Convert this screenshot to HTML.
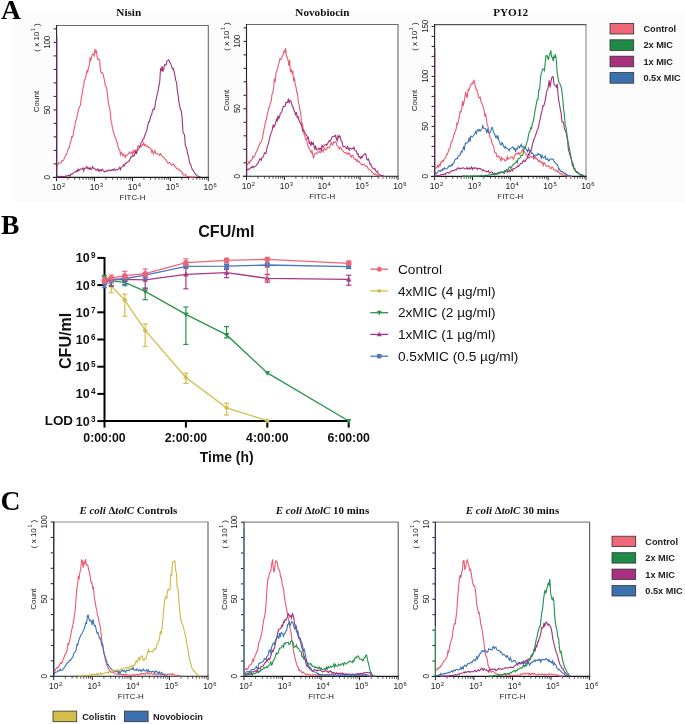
<!DOCTYPE html><html><head><meta charset="utf-8"><style>html,body{margin:0;padding:0;background:#fff;}svg{display:block;will-change:transform;filter:blur(0.35px);}text{font-family:"Liberation Sans", sans-serif;}.serif{font-family:"Liberation Serif",serif;}</style></head><body>
<svg width="685" height="724" viewBox="0 0 685 724">
<rect width="685" height="724" fill="#fff"/>
<rect x="13.5" y="12.4" width="672" height="189.2" fill="#fcfcfc"/>
<text x="1.0" y="18.9" class="serif" font-weight="bold" font-size="27.6" fill="#000">A</text>
<text x="0.9" y="233.8" class="serif" font-weight="bold" font-size="27.6" fill="#000">B</text>
<text x="0.6" y="509.6" class="serif" font-weight="bold" font-size="27.6" fill="#000">C</text>
<rect x="56.6" y="25.5" width="151.7" height="151.9" fill="#fff"/>
<text x="128.75" y="16.2" text-anchor="middle" class="serif" font-weight="bold" font-size="11.2" fill="#111">Nisin</text>
<rect x="246.5" y="24.5" width="151.5" height="151.8" fill="#fff"/>
<text x="322.4" y="16.2" text-anchor="middle" class="serif" font-weight="bold" font-size="11.2" fill="#111">Novobiocin</text>
<rect x="434.6" y="24.6" width="151.4" height="151.8" fill="#fff"/>
<text x="510.6" y="16.2" text-anchor="middle" class="serif" font-weight="bold" font-size="11.2" fill="#111">PYO12</text>
<line x1="53.6" y1="177.4" x2="56.6" y2="177.4" stroke="#222" stroke-width="1"/>
<line x1="53.6" y1="163.9" x2="56.6" y2="163.9" stroke="#222" stroke-width="1"/>
<line x1="53.6" y1="150.4" x2="56.6" y2="150.4" stroke="#222" stroke-width="1"/>
<line x1="53.6" y1="136.9" x2="56.6" y2="136.9" stroke="#222" stroke-width="1"/>
<line x1="53.6" y1="123.4" x2="56.6" y2="123.4" stroke="#222" stroke-width="1"/>
<line x1="53.6" y1="109.9" x2="56.6" y2="109.9" stroke="#222" stroke-width="1"/>
<line x1="53.6" y1="96.4" x2="56.6" y2="96.4" stroke="#222" stroke-width="1"/>
<line x1="53.6" y1="82.9" x2="56.6" y2="82.9" stroke="#222" stroke-width="1"/>
<line x1="53.6" y1="69.4" x2="56.6" y2="69.4" stroke="#222" stroke-width="1"/>
<line x1="53.6" y1="55.9" x2="56.6" y2="55.9" stroke="#222" stroke-width="1"/>
<line x1="53.6" y1="42.4" x2="56.6" y2="42.4" stroke="#222" stroke-width="1"/>
<line x1="53.6" y1="28.9" x2="56.6" y2="28.9" stroke="#222" stroke-width="1"/>
<line x1="56.6" y1="177.4" x2="56.6" y2="181.2" stroke="#222" stroke-width="1"/>
<line x1="68.0" y1="177.4" x2="68.0" y2="179.8" stroke="#333" stroke-width="0.8"/>
<line x1="74.7" y1="177.4" x2="74.7" y2="179.8" stroke="#333" stroke-width="0.8"/>
<line x1="79.4" y1="177.4" x2="79.4" y2="179.8" stroke="#333" stroke-width="0.8"/>
<line x1="83.1" y1="177.4" x2="83.1" y2="179.8" stroke="#333" stroke-width="0.8"/>
<line x1="86.1" y1="177.4" x2="86.1" y2="179.8" stroke="#333" stroke-width="0.8"/>
<line x1="88.7" y1="177.4" x2="88.7" y2="179.8" stroke="#333" stroke-width="0.8"/>
<line x1="90.8" y1="177.4" x2="90.8" y2="179.8" stroke="#333" stroke-width="0.8"/>
<line x1="92.8" y1="177.4" x2="92.8" y2="179.8" stroke="#333" stroke-width="0.8"/>
<line x1="94.5" y1="177.4" x2="94.5" y2="181.2" stroke="#222" stroke-width="1"/>
<line x1="105.9" y1="177.4" x2="105.9" y2="179.8" stroke="#333" stroke-width="0.8"/>
<line x1="112.6" y1="177.4" x2="112.6" y2="179.8" stroke="#333" stroke-width="0.8"/>
<line x1="117.4" y1="177.4" x2="117.4" y2="179.8" stroke="#333" stroke-width="0.8"/>
<line x1="121.0" y1="177.4" x2="121.0" y2="179.8" stroke="#333" stroke-width="0.8"/>
<line x1="124.0" y1="177.4" x2="124.0" y2="179.8" stroke="#333" stroke-width="0.8"/>
<line x1="126.6" y1="177.4" x2="126.6" y2="179.8" stroke="#333" stroke-width="0.8"/>
<line x1="128.8" y1="177.4" x2="128.8" y2="179.8" stroke="#333" stroke-width="0.8"/>
<line x1="130.7" y1="177.4" x2="130.7" y2="179.8" stroke="#333" stroke-width="0.8"/>
<line x1="132.5" y1="177.4" x2="132.5" y2="181.2" stroke="#222" stroke-width="1"/>
<line x1="143.9" y1="177.4" x2="143.9" y2="179.8" stroke="#333" stroke-width="0.8"/>
<line x1="150.5" y1="177.4" x2="150.5" y2="179.8" stroke="#333" stroke-width="0.8"/>
<line x1="155.3" y1="177.4" x2="155.3" y2="179.8" stroke="#333" stroke-width="0.8"/>
<line x1="159.0" y1="177.4" x2="159.0" y2="179.8" stroke="#333" stroke-width="0.8"/>
<line x1="162.0" y1="177.4" x2="162.0" y2="179.8" stroke="#333" stroke-width="0.8"/>
<line x1="164.5" y1="177.4" x2="164.5" y2="179.8" stroke="#333" stroke-width="0.8"/>
<line x1="166.7" y1="177.4" x2="166.7" y2="179.8" stroke="#333" stroke-width="0.8"/>
<line x1="168.6" y1="177.4" x2="168.6" y2="179.8" stroke="#333" stroke-width="0.8"/>
<line x1="170.4" y1="177.4" x2="170.4" y2="181.2" stroke="#222" stroke-width="1"/>
<line x1="181.8" y1="177.4" x2="181.8" y2="179.8" stroke="#333" stroke-width="0.8"/>
<line x1="188.5" y1="177.4" x2="188.5" y2="179.8" stroke="#333" stroke-width="0.8"/>
<line x1="193.2" y1="177.4" x2="193.2" y2="179.8" stroke="#333" stroke-width="0.8"/>
<line x1="196.9" y1="177.4" x2="196.9" y2="179.8" stroke="#333" stroke-width="0.8"/>
<line x1="199.9" y1="177.4" x2="199.9" y2="179.8" stroke="#333" stroke-width="0.8"/>
<line x1="202.4" y1="177.4" x2="202.4" y2="179.8" stroke="#333" stroke-width="0.8"/>
<line x1="204.6" y1="177.4" x2="204.6" y2="179.8" stroke="#333" stroke-width="0.8"/>
<line x1="206.6" y1="177.4" x2="206.6" y2="179.8" stroke="#333" stroke-width="0.8"/>
<line x1="208.3" y1="177.4" x2="208.3" y2="181.2" stroke="#222" stroke-width="1"/>
<line x1="56.1" y1="25.5" x2="208.8" y2="25.5" stroke="#6a6a6a" stroke-width="1.2"/>
<line x1="208.3" y1="25.5" x2="208.3" y2="177.4" stroke="#6a6a6a" stroke-width="1.1"/>
<line x1="56.6" y1="25.0" x2="56.6" y2="177.4" stroke="#222" stroke-width="1.1"/>
<line x1="56.6" y1="177.4" x2="208.8" y2="177.4" stroke="#1a1a1a" stroke-width="1.1"/>
<line x1="52.9" y1="177.4" x2="56.6" y2="177.4" stroke="#222" stroke-width="1"/>
<text transform="translate(49.7,177.4) rotate(-90)" text-anchor="middle" font-size="8.4" letter-spacing="-0.35" fill="#222">0</text>
<text transform="translate(49.7,109.9) rotate(-90)" text-anchor="middle" font-size="8.4" letter-spacing="-0.35" fill="#222">50</text>
<text transform="translate(49.7,42.4) rotate(-90)" text-anchor="middle" font-size="8.4" letter-spacing="-0.35" fill="#222">100</text>
<text x="56.6" y="190.3" text-anchor="middle" font-size="8.5" fill="#222">10</text>
<text x="61.9" y="187.3" font-size="5.8" fill="#222">2</text>
<text x="94.5" y="190.3" text-anchor="middle" font-size="8.5" fill="#222">10</text>
<text x="99.8" y="187.3" font-size="5.8" fill="#222">3</text>
<text x="132.5" y="190.3" text-anchor="middle" font-size="8.5" fill="#222">10</text>
<text x="137.8" y="187.3" font-size="5.8" fill="#222">4</text>
<text x="170.4" y="190.3" text-anchor="middle" font-size="8.5" fill="#222">10</text>
<text x="175.7" y="187.3" font-size="5.8" fill="#222">5</text>
<text x="208.3" y="190.3" text-anchor="middle" font-size="8.5" fill="#222">10</text>
<text x="213.6" y="187.3" font-size="5.8" fill="#222">6</text>
<text x="132.5" y="200.1" text-anchor="middle" font-size="7.9" fill="#222">FITC-H</text>
<text transform="translate(39.3,101.5) rotate(-90)" text-anchor="middle" font-size="8" fill="#222">Count</text>
<text transform="translate(39.2,37.5) rotate(-90)" text-anchor="middle" font-size="8" fill="#222">( x 10<tspan font-size="5.2" dx="0.6" dy="-4.0">1</tspan><tspan dy="4.0"> )</tspan></text>
<line x1="243.5" y1="176.3" x2="246.5" y2="176.3" stroke="#222" stroke-width="1"/>
<line x1="243.5" y1="162.8" x2="246.5" y2="162.8" stroke="#222" stroke-width="1"/>
<line x1="243.5" y1="149.3" x2="246.5" y2="149.3" stroke="#222" stroke-width="1"/>
<line x1="243.5" y1="135.8" x2="246.5" y2="135.8" stroke="#222" stroke-width="1"/>
<line x1="243.5" y1="122.3" x2="246.5" y2="122.3" stroke="#222" stroke-width="1"/>
<line x1="243.5" y1="108.8" x2="246.5" y2="108.8" stroke="#222" stroke-width="1"/>
<line x1="243.5" y1="95.3" x2="246.5" y2="95.3" stroke="#222" stroke-width="1"/>
<line x1="243.5" y1="81.8" x2="246.5" y2="81.8" stroke="#222" stroke-width="1"/>
<line x1="243.5" y1="68.4" x2="246.5" y2="68.4" stroke="#222" stroke-width="1"/>
<line x1="243.5" y1="54.9" x2="246.5" y2="54.9" stroke="#222" stroke-width="1"/>
<line x1="243.5" y1="41.4" x2="246.5" y2="41.4" stroke="#222" stroke-width="1"/>
<line x1="243.5" y1="27.9" x2="246.5" y2="27.9" stroke="#222" stroke-width="1"/>
<line x1="246.5" y1="176.3" x2="246.5" y2="180.1" stroke="#222" stroke-width="1"/>
<line x1="257.9" y1="176.3" x2="257.9" y2="178.7" stroke="#333" stroke-width="0.8"/>
<line x1="264.6" y1="176.3" x2="264.6" y2="178.7" stroke="#333" stroke-width="0.8"/>
<line x1="269.3" y1="176.3" x2="269.3" y2="178.7" stroke="#333" stroke-width="0.8"/>
<line x1="273.0" y1="176.3" x2="273.0" y2="178.7" stroke="#333" stroke-width="0.8"/>
<line x1="276.0" y1="176.3" x2="276.0" y2="178.7" stroke="#333" stroke-width="0.8"/>
<line x1="278.5" y1="176.3" x2="278.5" y2="178.7" stroke="#333" stroke-width="0.8"/>
<line x1="280.7" y1="176.3" x2="280.7" y2="178.7" stroke="#333" stroke-width="0.8"/>
<line x1="282.6" y1="176.3" x2="282.6" y2="178.7" stroke="#333" stroke-width="0.8"/>
<line x1="284.4" y1="176.3" x2="284.4" y2="180.1" stroke="#222" stroke-width="1"/>
<line x1="295.8" y1="176.3" x2="295.8" y2="178.7" stroke="#333" stroke-width="0.8"/>
<line x1="302.4" y1="176.3" x2="302.4" y2="178.7" stroke="#333" stroke-width="0.8"/>
<line x1="307.2" y1="176.3" x2="307.2" y2="178.7" stroke="#333" stroke-width="0.8"/>
<line x1="310.8" y1="176.3" x2="310.8" y2="178.7" stroke="#333" stroke-width="0.8"/>
<line x1="313.8" y1="176.3" x2="313.8" y2="178.7" stroke="#333" stroke-width="0.8"/>
<line x1="316.4" y1="176.3" x2="316.4" y2="178.7" stroke="#333" stroke-width="0.8"/>
<line x1="318.6" y1="176.3" x2="318.6" y2="178.7" stroke="#333" stroke-width="0.8"/>
<line x1="320.5" y1="176.3" x2="320.5" y2="178.7" stroke="#333" stroke-width="0.8"/>
<line x1="322.2" y1="176.3" x2="322.2" y2="180.1" stroke="#222" stroke-width="1"/>
<line x1="333.7" y1="176.3" x2="333.7" y2="178.7" stroke="#333" stroke-width="0.8"/>
<line x1="340.3" y1="176.3" x2="340.3" y2="178.7" stroke="#333" stroke-width="0.8"/>
<line x1="345.1" y1="176.3" x2="345.1" y2="178.7" stroke="#333" stroke-width="0.8"/>
<line x1="348.7" y1="176.3" x2="348.7" y2="178.7" stroke="#333" stroke-width="0.8"/>
<line x1="351.7" y1="176.3" x2="351.7" y2="178.7" stroke="#333" stroke-width="0.8"/>
<line x1="354.3" y1="176.3" x2="354.3" y2="178.7" stroke="#333" stroke-width="0.8"/>
<line x1="356.5" y1="176.3" x2="356.5" y2="178.7" stroke="#333" stroke-width="0.8"/>
<line x1="358.4" y1="176.3" x2="358.4" y2="178.7" stroke="#333" stroke-width="0.8"/>
<line x1="360.1" y1="176.3" x2="360.1" y2="180.1" stroke="#222" stroke-width="1"/>
<line x1="371.5" y1="176.3" x2="371.5" y2="178.7" stroke="#333" stroke-width="0.8"/>
<line x1="378.2" y1="176.3" x2="378.2" y2="178.7" stroke="#333" stroke-width="0.8"/>
<line x1="382.9" y1="176.3" x2="382.9" y2="178.7" stroke="#333" stroke-width="0.8"/>
<line x1="386.6" y1="176.3" x2="386.6" y2="178.7" stroke="#333" stroke-width="0.8"/>
<line x1="389.6" y1="176.3" x2="389.6" y2="178.7" stroke="#333" stroke-width="0.8"/>
<line x1="392.1" y1="176.3" x2="392.1" y2="178.7" stroke="#333" stroke-width="0.8"/>
<line x1="394.3" y1="176.3" x2="394.3" y2="178.7" stroke="#333" stroke-width="0.8"/>
<line x1="396.3" y1="176.3" x2="396.3" y2="178.7" stroke="#333" stroke-width="0.8"/>
<line x1="398.0" y1="176.3" x2="398.0" y2="180.1" stroke="#222" stroke-width="1"/>
<line x1="246.0" y1="24.5" x2="398.5" y2="24.5" stroke="#6a6a6a" stroke-width="1.2"/>
<line x1="398.0" y1="24.5" x2="398.0" y2="176.3" stroke="#6a6a6a" stroke-width="1.1"/>
<line x1="246.5" y1="24.0" x2="246.5" y2="176.3" stroke="#222" stroke-width="1.1"/>
<line x1="246.5" y1="176.3" x2="398.5" y2="176.3" stroke="#1a1a1a" stroke-width="1.1"/>
<line x1="242.8" y1="176.3" x2="246.5" y2="176.3" stroke="#222" stroke-width="1"/>
<text transform="translate(239.6,176.3) rotate(-90)" text-anchor="middle" font-size="8.4" letter-spacing="-0.35" fill="#222">0</text>
<text transform="translate(239.6,108.8) rotate(-90)" text-anchor="middle" font-size="8.4" letter-spacing="-0.35" fill="#222">50</text>
<text transform="translate(239.6,41.4) rotate(-90)" text-anchor="middle" font-size="8.4" letter-spacing="-0.35" fill="#222">100</text>
<text x="246.5" y="189.2" text-anchor="middle" font-size="8.5" fill="#222">10</text>
<text x="251.8" y="186.2" font-size="5.8" fill="#222">2</text>
<text x="284.4" y="189.2" text-anchor="middle" font-size="8.5" fill="#222">10</text>
<text x="289.7" y="186.2" font-size="5.8" fill="#222">3</text>
<text x="322.2" y="189.2" text-anchor="middle" font-size="8.5" fill="#222">10</text>
<text x="327.6" y="186.2" font-size="5.8" fill="#222">4</text>
<text x="360.1" y="189.2" text-anchor="middle" font-size="8.5" fill="#222">10</text>
<text x="365.4" y="186.2" font-size="5.8" fill="#222">5</text>
<text x="398.0" y="189.2" text-anchor="middle" font-size="8.5" fill="#222">10</text>
<text x="403.3" y="186.2" font-size="5.8" fill="#222">6</text>
<text x="322.2" y="199.0" text-anchor="middle" font-size="7.9" fill="#222">FITC-H</text>
<text transform="translate(229.2,100.4) rotate(-90)" text-anchor="middle" font-size="8" fill="#222">Count</text>
<text transform="translate(229.1,36.5) rotate(-90)" text-anchor="middle" font-size="8" fill="#222">( x 10<tspan font-size="5.2" dx="0.6" dy="-4.0">1</tspan><tspan dy="4.0"> )</tspan></text>
<line x1="431.6" y1="176.4" x2="434.6" y2="176.4" stroke="#222" stroke-width="1"/>
<line x1="431.6" y1="166.4" x2="434.6" y2="166.4" stroke="#222" stroke-width="1"/>
<line x1="431.6" y1="156.4" x2="434.6" y2="156.4" stroke="#222" stroke-width="1"/>
<line x1="431.6" y1="146.4" x2="434.6" y2="146.4" stroke="#222" stroke-width="1"/>
<line x1="431.6" y1="136.4" x2="434.6" y2="136.4" stroke="#222" stroke-width="1"/>
<line x1="431.6" y1="126.4" x2="434.6" y2="126.4" stroke="#222" stroke-width="1"/>
<line x1="431.6" y1="116.4" x2="434.6" y2="116.4" stroke="#222" stroke-width="1"/>
<line x1="431.6" y1="106.4" x2="434.6" y2="106.4" stroke="#222" stroke-width="1"/>
<line x1="431.6" y1="96.4" x2="434.6" y2="96.4" stroke="#222" stroke-width="1"/>
<line x1="431.6" y1="86.4" x2="434.6" y2="86.4" stroke="#222" stroke-width="1"/>
<line x1="431.6" y1="76.4" x2="434.6" y2="76.4" stroke="#222" stroke-width="1"/>
<line x1="431.6" y1="66.4" x2="434.6" y2="66.4" stroke="#222" stroke-width="1"/>
<line x1="431.6" y1="56.4" x2="434.6" y2="56.4" stroke="#222" stroke-width="1"/>
<line x1="431.6" y1="46.4" x2="434.6" y2="46.4" stroke="#222" stroke-width="1"/>
<line x1="431.6" y1="36.4" x2="434.6" y2="36.4" stroke="#222" stroke-width="1"/>
<line x1="431.6" y1="26.4" x2="434.6" y2="26.4" stroke="#222" stroke-width="1"/>
<line x1="434.6" y1="176.4" x2="434.6" y2="180.2" stroke="#222" stroke-width="1"/>
<line x1="446.0" y1="176.4" x2="446.0" y2="178.8" stroke="#333" stroke-width="0.8"/>
<line x1="452.7" y1="176.4" x2="452.7" y2="178.8" stroke="#333" stroke-width="0.8"/>
<line x1="457.4" y1="176.4" x2="457.4" y2="178.8" stroke="#333" stroke-width="0.8"/>
<line x1="461.1" y1="176.4" x2="461.1" y2="178.8" stroke="#333" stroke-width="0.8"/>
<line x1="464.1" y1="176.4" x2="464.1" y2="178.8" stroke="#333" stroke-width="0.8"/>
<line x1="466.6" y1="176.4" x2="466.6" y2="178.8" stroke="#333" stroke-width="0.8"/>
<line x1="468.8" y1="176.4" x2="468.8" y2="178.8" stroke="#333" stroke-width="0.8"/>
<line x1="470.7" y1="176.4" x2="470.7" y2="178.8" stroke="#333" stroke-width="0.8"/>
<line x1="472.5" y1="176.4" x2="472.5" y2="180.2" stroke="#222" stroke-width="1"/>
<line x1="483.8" y1="176.4" x2="483.8" y2="178.8" stroke="#333" stroke-width="0.8"/>
<line x1="490.5" y1="176.4" x2="490.5" y2="178.8" stroke="#333" stroke-width="0.8"/>
<line x1="495.2" y1="176.4" x2="495.2" y2="178.8" stroke="#333" stroke-width="0.8"/>
<line x1="498.9" y1="176.4" x2="498.9" y2="178.8" stroke="#333" stroke-width="0.8"/>
<line x1="501.9" y1="176.4" x2="501.9" y2="178.8" stroke="#333" stroke-width="0.8"/>
<line x1="504.4" y1="176.4" x2="504.4" y2="178.8" stroke="#333" stroke-width="0.8"/>
<line x1="506.6" y1="176.4" x2="506.6" y2="178.8" stroke="#333" stroke-width="0.8"/>
<line x1="508.6" y1="176.4" x2="508.6" y2="178.8" stroke="#333" stroke-width="0.8"/>
<line x1="510.3" y1="176.4" x2="510.3" y2="180.2" stroke="#222" stroke-width="1"/>
<line x1="521.7" y1="176.4" x2="521.7" y2="178.8" stroke="#333" stroke-width="0.8"/>
<line x1="528.4" y1="176.4" x2="528.4" y2="178.8" stroke="#333" stroke-width="0.8"/>
<line x1="533.1" y1="176.4" x2="533.1" y2="178.8" stroke="#333" stroke-width="0.8"/>
<line x1="536.8" y1="176.4" x2="536.8" y2="178.8" stroke="#333" stroke-width="0.8"/>
<line x1="539.8" y1="176.4" x2="539.8" y2="178.8" stroke="#333" stroke-width="0.8"/>
<line x1="542.3" y1="176.4" x2="542.3" y2="178.8" stroke="#333" stroke-width="0.8"/>
<line x1="544.5" y1="176.4" x2="544.5" y2="178.8" stroke="#333" stroke-width="0.8"/>
<line x1="546.4" y1="176.4" x2="546.4" y2="178.8" stroke="#333" stroke-width="0.8"/>
<line x1="548.1" y1="176.4" x2="548.1" y2="180.2" stroke="#222" stroke-width="1"/>
<line x1="559.5" y1="176.4" x2="559.5" y2="178.8" stroke="#333" stroke-width="0.8"/>
<line x1="566.2" y1="176.4" x2="566.2" y2="178.8" stroke="#333" stroke-width="0.8"/>
<line x1="570.9" y1="176.4" x2="570.9" y2="178.8" stroke="#333" stroke-width="0.8"/>
<line x1="574.6" y1="176.4" x2="574.6" y2="178.8" stroke="#333" stroke-width="0.8"/>
<line x1="577.6" y1="176.4" x2="577.6" y2="178.8" stroke="#333" stroke-width="0.8"/>
<line x1="580.1" y1="176.4" x2="580.1" y2="178.8" stroke="#333" stroke-width="0.8"/>
<line x1="582.3" y1="176.4" x2="582.3" y2="178.8" stroke="#333" stroke-width="0.8"/>
<line x1="584.3" y1="176.4" x2="584.3" y2="178.8" stroke="#333" stroke-width="0.8"/>
<line x1="586.0" y1="176.4" x2="586.0" y2="180.2" stroke="#222" stroke-width="1"/>
<line x1="434.1" y1="24.6" x2="586.5" y2="24.6" stroke="#555" stroke-width="1.2"/>
<line x1="586.0" y1="24.6" x2="586.0" y2="176.4" stroke="#888" stroke-width="1.1"/>
<line x1="434.6" y1="24.1" x2="434.6" y2="176.4" stroke="#222" stroke-width="1.1"/>
<line x1="434.6" y1="176.4" x2="586.5" y2="176.4" stroke="#1a1a1a" stroke-width="1.1"/>
<line x1="430.90000000000003" y1="176.4" x2="434.6" y2="176.4" stroke="#222" stroke-width="1"/>
<text transform="translate(427.7,176.4) rotate(-90)" text-anchor="middle" font-size="8.4" letter-spacing="-0.35" fill="#222">0</text>
<text transform="translate(427.7,126.4) rotate(-90)" text-anchor="middle" font-size="8.4" letter-spacing="-0.35" fill="#222">50</text>
<text transform="translate(427.7,76.4) rotate(-90)" text-anchor="middle" font-size="8.4" letter-spacing="-0.35" fill="#222">100</text>
<text transform="translate(427.7,26.4) rotate(-90)" text-anchor="middle" font-size="8.4" letter-spacing="-0.35" fill="#222">150</text>
<text x="434.6" y="189.3" text-anchor="middle" font-size="8.5" fill="#222">10</text>
<text x="439.9" y="186.3" font-size="5.8" fill="#222">2</text>
<text x="472.5" y="189.3" text-anchor="middle" font-size="8.5" fill="#222">10</text>
<text x="477.8" y="186.3" font-size="5.8" fill="#222">3</text>
<text x="510.3" y="189.3" text-anchor="middle" font-size="8.5" fill="#222">10</text>
<text x="515.6" y="186.3" font-size="5.8" fill="#222">4</text>
<text x="548.1" y="189.3" text-anchor="middle" font-size="8.5" fill="#222">10</text>
<text x="553.4" y="186.3" font-size="5.8" fill="#222">5</text>
<text x="586.0" y="189.3" text-anchor="middle" font-size="8.5" fill="#222">10</text>
<text x="591.3" y="186.3" font-size="5.8" fill="#222">6</text>
<text x="510.3" y="199.1" text-anchor="middle" font-size="7.9" fill="#222">FITC-H</text>
<text transform="translate(417.3,100.5) rotate(-90)" text-anchor="middle" font-size="8" fill="#222">Count</text>
<text transform="translate(417.2,36.6) rotate(-90)" text-anchor="middle" font-size="8" fill="#222">( x 10<tspan font-size="5.2" dx="0.6" dy="-4.0">1</tspan><tspan dy="4.0"> )</tspan></text>
<rect x="610" y="23.4" width="23.7" height="10.6" fill="#ef6677" stroke="#333" stroke-width="0.8"/>
<text x="643.4" y="31.8" font-size="9.2" font-weight="bold" fill="#222">Control</text>
<rect x="610" y="39.8" width="23.7" height="10.6" fill="#1e8a46" stroke="#333" stroke-width="0.8"/>
<text x="643.4" y="48.2" font-size="9.2" font-weight="bold" fill="#222">2x MIC</text>
<rect x="610" y="56.2" width="23.7" height="10.6" fill="#a8307e" stroke="#333" stroke-width="0.8"/>
<text x="643.4" y="64.6" font-size="9.2" font-weight="bold" fill="#222">1x MIC</text>
<rect x="610" y="72.6" width="23.7" height="10.6" fill="#3c70ae" stroke="#333" stroke-width="0.8"/>
<text x="643.4" y="81.0" font-size="9.2" font-weight="bold" fill="#222">0.5x MIC</text>
<rect x="53.7" y="522.0" width="154.3" height="154.3" fill="#fff"/>
<rect x="244.0" y="522.2" width="154.2" height="154.2" fill="#fff"/>
<rect x="435.4" y="522.2" width="154.2" height="154.2" fill="#fff"/>
<line x1="50.7" y1="676.3" x2="53.7" y2="676.3" stroke="#222" stroke-width="1"/>
<line x1="50.7" y1="660.9" x2="53.7" y2="660.9" stroke="#222" stroke-width="1"/>
<line x1="50.7" y1="645.4" x2="53.7" y2="645.4" stroke="#222" stroke-width="1"/>
<line x1="50.7" y1="630.0" x2="53.7" y2="630.0" stroke="#222" stroke-width="1"/>
<line x1="50.7" y1="614.6" x2="53.7" y2="614.6" stroke="#222" stroke-width="1"/>
<line x1="50.7" y1="599.1" x2="53.7" y2="599.1" stroke="#222" stroke-width="1"/>
<line x1="50.7" y1="583.7" x2="53.7" y2="583.7" stroke="#222" stroke-width="1"/>
<line x1="50.7" y1="568.3" x2="53.7" y2="568.3" stroke="#222" stroke-width="1"/>
<line x1="50.7" y1="552.9" x2="53.7" y2="552.9" stroke="#222" stroke-width="1"/>
<line x1="50.7" y1="537.4" x2="53.7" y2="537.4" stroke="#222" stroke-width="1"/>
<line x1="50.7" y1="522.0" x2="53.7" y2="522.0" stroke="#222" stroke-width="1"/>
<line x1="53.7" y1="676.3" x2="53.7" y2="680.1" stroke="#222" stroke-width="1"/>
<line x1="65.3" y1="676.3" x2="65.3" y2="678.7" stroke="#333" stroke-width="0.8"/>
<line x1="72.1" y1="676.3" x2="72.1" y2="678.7" stroke="#333" stroke-width="0.8"/>
<line x1="76.9" y1="676.3" x2="76.9" y2="678.7" stroke="#333" stroke-width="0.8"/>
<line x1="80.7" y1="676.3" x2="80.7" y2="678.7" stroke="#333" stroke-width="0.8"/>
<line x1="83.7" y1="676.3" x2="83.7" y2="678.7" stroke="#333" stroke-width="0.8"/>
<line x1="86.3" y1="676.3" x2="86.3" y2="678.7" stroke="#333" stroke-width="0.8"/>
<line x1="88.5" y1="676.3" x2="88.5" y2="678.7" stroke="#333" stroke-width="0.8"/>
<line x1="90.5" y1="676.3" x2="90.5" y2="678.7" stroke="#333" stroke-width="0.8"/>
<line x1="92.3" y1="676.3" x2="92.3" y2="680.1" stroke="#222" stroke-width="1"/>
<line x1="103.9" y1="676.3" x2="103.9" y2="678.7" stroke="#333" stroke-width="0.8"/>
<line x1="110.7" y1="676.3" x2="110.7" y2="678.7" stroke="#333" stroke-width="0.8"/>
<line x1="115.5" y1="676.3" x2="115.5" y2="678.7" stroke="#333" stroke-width="0.8"/>
<line x1="119.2" y1="676.3" x2="119.2" y2="678.7" stroke="#333" stroke-width="0.8"/>
<line x1="122.3" y1="676.3" x2="122.3" y2="678.7" stroke="#333" stroke-width="0.8"/>
<line x1="124.9" y1="676.3" x2="124.9" y2="678.7" stroke="#333" stroke-width="0.8"/>
<line x1="127.1" y1="676.3" x2="127.1" y2="678.7" stroke="#333" stroke-width="0.8"/>
<line x1="129.1" y1="676.3" x2="129.1" y2="678.7" stroke="#333" stroke-width="0.8"/>
<line x1="130.9" y1="676.3" x2="130.9" y2="680.1" stroke="#222" stroke-width="1"/>
<line x1="142.5" y1="676.3" x2="142.5" y2="678.7" stroke="#333" stroke-width="0.8"/>
<line x1="149.3" y1="676.3" x2="149.3" y2="678.7" stroke="#333" stroke-width="0.8"/>
<line x1="154.1" y1="676.3" x2="154.1" y2="678.7" stroke="#333" stroke-width="0.8"/>
<line x1="157.8" y1="676.3" x2="157.8" y2="678.7" stroke="#333" stroke-width="0.8"/>
<line x1="160.9" y1="676.3" x2="160.9" y2="678.7" stroke="#333" stroke-width="0.8"/>
<line x1="163.4" y1="676.3" x2="163.4" y2="678.7" stroke="#333" stroke-width="0.8"/>
<line x1="165.7" y1="676.3" x2="165.7" y2="678.7" stroke="#333" stroke-width="0.8"/>
<line x1="167.7" y1="676.3" x2="167.7" y2="678.7" stroke="#333" stroke-width="0.8"/>
<line x1="169.4" y1="676.3" x2="169.4" y2="680.1" stroke="#222" stroke-width="1"/>
<line x1="181.0" y1="676.3" x2="181.0" y2="678.7" stroke="#333" stroke-width="0.8"/>
<line x1="187.8" y1="676.3" x2="187.8" y2="678.7" stroke="#333" stroke-width="0.8"/>
<line x1="192.6" y1="676.3" x2="192.6" y2="678.7" stroke="#333" stroke-width="0.8"/>
<line x1="196.4" y1="676.3" x2="196.4" y2="678.7" stroke="#333" stroke-width="0.8"/>
<line x1="199.4" y1="676.3" x2="199.4" y2="678.7" stroke="#333" stroke-width="0.8"/>
<line x1="202.0" y1="676.3" x2="202.0" y2="678.7" stroke="#333" stroke-width="0.8"/>
<line x1="204.3" y1="676.3" x2="204.3" y2="678.7" stroke="#333" stroke-width="0.8"/>
<line x1="206.2" y1="676.3" x2="206.2" y2="678.7" stroke="#333" stroke-width="0.8"/>
<line x1="208.0" y1="676.3" x2="208.0" y2="680.1" stroke="#222" stroke-width="1"/>
<line x1="53.2" y1="522.0" x2="208.5" y2="522.0" stroke="#8a8a8a" stroke-width="1.2"/>
<line x1="208.0" y1="522.0" x2="208.0" y2="676.3" stroke="#5a5a5a" stroke-width="1.1"/>
<line x1="53.7" y1="521.5" x2="53.7" y2="676.3" stroke="#2c2c44" stroke-width="1.1"/>
<line x1="53.7" y1="676.3" x2="208.5" y2="676.3" stroke="#1a1a1a" stroke-width="1.1"/>
<line x1="50.0" y1="676.3" x2="53.7" y2="676.3" stroke="#222" stroke-width="1"/>
<text transform="translate(46.8,676.3) rotate(-90)" text-anchor="middle" font-size="8.4" letter-spacing="-0.35" fill="#222">0</text>
<text transform="translate(46.8,599.1) rotate(-90)" text-anchor="middle" font-size="8.4" letter-spacing="-0.35" fill="#222">50</text>
<text transform="translate(46.8,522.0) rotate(-90)" text-anchor="middle" font-size="8.4" letter-spacing="-0.35" fill="#222">100</text>
<text x="53.7" y="689.2" text-anchor="middle" font-size="8.5" fill="#222">10</text>
<text x="59.0" y="686.2" font-size="5.8" fill="#222">2</text>
<text x="92.3" y="689.2" text-anchor="middle" font-size="8.5" fill="#222">10</text>
<text x="97.6" y="686.2" font-size="5.8" fill="#222">3</text>
<text x="130.9" y="689.2" text-anchor="middle" font-size="8.5" fill="#222">10</text>
<text x="136.2" y="686.2" font-size="5.8" fill="#222">4</text>
<text x="169.4" y="689.2" text-anchor="middle" font-size="8.5" fill="#222">10</text>
<text x="174.7" y="686.2" font-size="5.8" fill="#222">5</text>
<text x="208.0" y="689.2" text-anchor="middle" font-size="8.5" fill="#222">10</text>
<text x="213.3" y="686.2" font-size="5.8" fill="#222">6</text>
<text x="130.8" y="699.0" text-anchor="middle" font-size="7.9" fill="#222">FITC-H</text>
<text transform="translate(36.4,599.1) rotate(-90)" text-anchor="middle" font-size="8" fill="#222">Count</text>
<text transform="translate(36.3,534.0) rotate(-90)" text-anchor="middle" font-size="8" fill="#222">( x 10<tspan font-size="5.2" dx="0.6" dy="-4.0">1</tspan><tspan dy="4.0"> )</tspan></text>
<line x1="241.0" y1="676.4" x2="244.0" y2="676.4" stroke="#222" stroke-width="1"/>
<line x1="241.0" y1="661.0" x2="244.0" y2="661.0" stroke="#222" stroke-width="1"/>
<line x1="241.0" y1="645.6" x2="244.0" y2="645.6" stroke="#222" stroke-width="1"/>
<line x1="241.0" y1="630.1" x2="244.0" y2="630.1" stroke="#222" stroke-width="1"/>
<line x1="241.0" y1="614.7" x2="244.0" y2="614.7" stroke="#222" stroke-width="1"/>
<line x1="241.0" y1="599.3" x2="244.0" y2="599.3" stroke="#222" stroke-width="1"/>
<line x1="241.0" y1="583.9" x2="244.0" y2="583.9" stroke="#222" stroke-width="1"/>
<line x1="241.0" y1="568.5" x2="244.0" y2="568.5" stroke="#222" stroke-width="1"/>
<line x1="241.0" y1="553.0" x2="244.0" y2="553.0" stroke="#222" stroke-width="1"/>
<line x1="241.0" y1="537.6" x2="244.0" y2="537.6" stroke="#222" stroke-width="1"/>
<line x1="241.0" y1="522.2" x2="244.0" y2="522.2" stroke="#222" stroke-width="1"/>
<line x1="244.0" y1="676.4" x2="244.0" y2="680.2" stroke="#222" stroke-width="1"/>
<line x1="255.6" y1="676.4" x2="255.6" y2="678.8" stroke="#333" stroke-width="0.8"/>
<line x1="262.4" y1="676.4" x2="262.4" y2="678.8" stroke="#333" stroke-width="0.8"/>
<line x1="267.2" y1="676.4" x2="267.2" y2="678.8" stroke="#333" stroke-width="0.8"/>
<line x1="270.9" y1="676.4" x2="270.9" y2="678.8" stroke="#333" stroke-width="0.8"/>
<line x1="274.0" y1="676.4" x2="274.0" y2="678.8" stroke="#333" stroke-width="0.8"/>
<line x1="276.6" y1="676.4" x2="276.6" y2="678.8" stroke="#333" stroke-width="0.8"/>
<line x1="278.8" y1="676.4" x2="278.8" y2="678.8" stroke="#333" stroke-width="0.8"/>
<line x1="280.8" y1="676.4" x2="280.8" y2="678.8" stroke="#333" stroke-width="0.8"/>
<line x1="282.6" y1="676.4" x2="282.6" y2="680.2" stroke="#222" stroke-width="1"/>
<line x1="294.2" y1="676.4" x2="294.2" y2="678.8" stroke="#333" stroke-width="0.8"/>
<line x1="300.9" y1="676.4" x2="300.9" y2="678.8" stroke="#333" stroke-width="0.8"/>
<line x1="305.8" y1="676.4" x2="305.8" y2="678.8" stroke="#333" stroke-width="0.8"/>
<line x1="309.5" y1="676.4" x2="309.5" y2="678.8" stroke="#333" stroke-width="0.8"/>
<line x1="312.5" y1="676.4" x2="312.5" y2="678.8" stroke="#333" stroke-width="0.8"/>
<line x1="315.1" y1="676.4" x2="315.1" y2="678.8" stroke="#333" stroke-width="0.8"/>
<line x1="317.4" y1="676.4" x2="317.4" y2="678.8" stroke="#333" stroke-width="0.8"/>
<line x1="319.3" y1="676.4" x2="319.3" y2="678.8" stroke="#333" stroke-width="0.8"/>
<line x1="321.1" y1="676.4" x2="321.1" y2="680.2" stroke="#222" stroke-width="1"/>
<line x1="332.7" y1="676.4" x2="332.7" y2="678.8" stroke="#333" stroke-width="0.8"/>
<line x1="339.5" y1="676.4" x2="339.5" y2="678.8" stroke="#333" stroke-width="0.8"/>
<line x1="344.3" y1="676.4" x2="344.3" y2="678.8" stroke="#333" stroke-width="0.8"/>
<line x1="348.0" y1="676.4" x2="348.0" y2="678.8" stroke="#333" stroke-width="0.8"/>
<line x1="351.1" y1="676.4" x2="351.1" y2="678.8" stroke="#333" stroke-width="0.8"/>
<line x1="353.7" y1="676.4" x2="353.7" y2="678.8" stroke="#333" stroke-width="0.8"/>
<line x1="355.9" y1="676.4" x2="355.9" y2="678.8" stroke="#333" stroke-width="0.8"/>
<line x1="357.9" y1="676.4" x2="357.9" y2="678.8" stroke="#333" stroke-width="0.8"/>
<line x1="359.6" y1="676.4" x2="359.6" y2="680.2" stroke="#222" stroke-width="1"/>
<line x1="371.3" y1="676.4" x2="371.3" y2="678.8" stroke="#333" stroke-width="0.8"/>
<line x1="378.0" y1="676.4" x2="378.0" y2="678.8" stroke="#333" stroke-width="0.8"/>
<line x1="382.9" y1="676.4" x2="382.9" y2="678.8" stroke="#333" stroke-width="0.8"/>
<line x1="386.6" y1="676.4" x2="386.6" y2="678.8" stroke="#333" stroke-width="0.8"/>
<line x1="389.6" y1="676.4" x2="389.6" y2="678.8" stroke="#333" stroke-width="0.8"/>
<line x1="392.2" y1="676.4" x2="392.2" y2="678.8" stroke="#333" stroke-width="0.8"/>
<line x1="394.5" y1="676.4" x2="394.5" y2="678.8" stroke="#333" stroke-width="0.8"/>
<line x1="396.4" y1="676.4" x2="396.4" y2="678.8" stroke="#333" stroke-width="0.8"/>
<line x1="398.2" y1="676.4" x2="398.2" y2="680.2" stroke="#222" stroke-width="1"/>
<line x1="243.5" y1="522.2" x2="398.7" y2="522.2" stroke="#8a8a8a" stroke-width="1.2"/>
<line x1="398.2" y1="522.2" x2="398.2" y2="676.4" stroke="#5a5a5a" stroke-width="1.1"/>
<line x1="244.0" y1="521.7" x2="244.0" y2="676.4" stroke="#2c2c44" stroke-width="1.1"/>
<line x1="244.0" y1="676.4" x2="398.7" y2="676.4" stroke="#1a1a1a" stroke-width="1.1"/>
<line x1="240.3" y1="676.4" x2="244.0" y2="676.4" stroke="#222" stroke-width="1"/>
<text transform="translate(237.1,676.4) rotate(-90)" text-anchor="middle" font-size="8.4" letter-spacing="-0.35" fill="#222">0</text>
<text transform="translate(237.1,599.3) rotate(-90)" text-anchor="middle" font-size="8.4" letter-spacing="-0.35" fill="#222">50</text>
<text transform="translate(237.1,522.2) rotate(-90)" text-anchor="middle" font-size="8.4" letter-spacing="-0.35" fill="#222">100</text>
<text x="244.0" y="689.3" text-anchor="middle" font-size="8.5" fill="#222">10</text>
<text x="249.3" y="686.3" font-size="5.8" fill="#222">2</text>
<text x="282.6" y="689.3" text-anchor="middle" font-size="8.5" fill="#222">10</text>
<text x="287.9" y="686.3" font-size="5.8" fill="#222">3</text>
<text x="321.1" y="689.3" text-anchor="middle" font-size="8.5" fill="#222">10</text>
<text x="326.4" y="686.3" font-size="5.8" fill="#222">4</text>
<text x="359.6" y="689.3" text-anchor="middle" font-size="8.5" fill="#222">10</text>
<text x="364.9" y="686.3" font-size="5.8" fill="#222">5</text>
<text x="398.2" y="689.3" text-anchor="middle" font-size="8.5" fill="#222">10</text>
<text x="403.5" y="686.3" font-size="5.8" fill="#222">6</text>
<text x="321.1" y="699.1" text-anchor="middle" font-size="7.9" fill="#222">FITC-H</text>
<text transform="translate(226.7,599.3) rotate(-90)" text-anchor="middle" font-size="8" fill="#222">Count</text>
<text transform="translate(226.6,534.2) rotate(-90)" text-anchor="middle" font-size="8" fill="#222">( x 10<tspan font-size="5.2" dx="0.6" dy="-4.0">1</tspan><tspan dy="4.0"> )</tspan></text>
<line x1="432.4" y1="676.4" x2="435.4" y2="676.4" stroke="#222" stroke-width="1"/>
<line x1="432.4" y1="661.0" x2="435.4" y2="661.0" stroke="#222" stroke-width="1"/>
<line x1="432.4" y1="645.6" x2="435.4" y2="645.6" stroke="#222" stroke-width="1"/>
<line x1="432.4" y1="630.1" x2="435.4" y2="630.1" stroke="#222" stroke-width="1"/>
<line x1="432.4" y1="614.7" x2="435.4" y2="614.7" stroke="#222" stroke-width="1"/>
<line x1="432.4" y1="599.3" x2="435.4" y2="599.3" stroke="#222" stroke-width="1"/>
<line x1="432.4" y1="583.9" x2="435.4" y2="583.9" stroke="#222" stroke-width="1"/>
<line x1="432.4" y1="568.5" x2="435.4" y2="568.5" stroke="#222" stroke-width="1"/>
<line x1="432.4" y1="553.0" x2="435.4" y2="553.0" stroke="#222" stroke-width="1"/>
<line x1="432.4" y1="537.6" x2="435.4" y2="537.6" stroke="#222" stroke-width="1"/>
<line x1="432.4" y1="522.2" x2="435.4" y2="522.2" stroke="#222" stroke-width="1"/>
<line x1="435.4" y1="676.4" x2="435.4" y2="680.2" stroke="#222" stroke-width="1"/>
<line x1="447.0" y1="676.4" x2="447.0" y2="678.8" stroke="#333" stroke-width="0.8"/>
<line x1="453.8" y1="676.4" x2="453.8" y2="678.8" stroke="#333" stroke-width="0.8"/>
<line x1="458.6" y1="676.4" x2="458.6" y2="678.8" stroke="#333" stroke-width="0.8"/>
<line x1="462.3" y1="676.4" x2="462.3" y2="678.8" stroke="#333" stroke-width="0.8"/>
<line x1="465.4" y1="676.4" x2="465.4" y2="678.8" stroke="#333" stroke-width="0.8"/>
<line x1="468.0" y1="676.4" x2="468.0" y2="678.8" stroke="#333" stroke-width="0.8"/>
<line x1="470.2" y1="676.4" x2="470.2" y2="678.8" stroke="#333" stroke-width="0.8"/>
<line x1="472.2" y1="676.4" x2="472.2" y2="678.8" stroke="#333" stroke-width="0.8"/>
<line x1="473.9" y1="676.4" x2="473.9" y2="680.2" stroke="#222" stroke-width="1"/>
<line x1="485.6" y1="676.4" x2="485.6" y2="678.8" stroke="#333" stroke-width="0.8"/>
<line x1="492.3" y1="676.4" x2="492.3" y2="678.8" stroke="#333" stroke-width="0.8"/>
<line x1="497.2" y1="676.4" x2="497.2" y2="678.8" stroke="#333" stroke-width="0.8"/>
<line x1="500.9" y1="676.4" x2="500.9" y2="678.8" stroke="#333" stroke-width="0.8"/>
<line x1="503.9" y1="676.4" x2="503.9" y2="678.8" stroke="#333" stroke-width="0.8"/>
<line x1="506.5" y1="676.4" x2="506.5" y2="678.8" stroke="#333" stroke-width="0.8"/>
<line x1="508.8" y1="676.4" x2="508.8" y2="678.8" stroke="#333" stroke-width="0.8"/>
<line x1="510.7" y1="676.4" x2="510.7" y2="678.8" stroke="#333" stroke-width="0.8"/>
<line x1="512.5" y1="676.4" x2="512.5" y2="680.2" stroke="#222" stroke-width="1"/>
<line x1="524.1" y1="676.4" x2="524.1" y2="678.8" stroke="#333" stroke-width="0.8"/>
<line x1="530.9" y1="676.4" x2="530.9" y2="678.8" stroke="#333" stroke-width="0.8"/>
<line x1="535.7" y1="676.4" x2="535.7" y2="678.8" stroke="#333" stroke-width="0.8"/>
<line x1="539.4" y1="676.4" x2="539.4" y2="678.8" stroke="#333" stroke-width="0.8"/>
<line x1="542.5" y1="676.4" x2="542.5" y2="678.8" stroke="#333" stroke-width="0.8"/>
<line x1="545.1" y1="676.4" x2="545.1" y2="678.8" stroke="#333" stroke-width="0.8"/>
<line x1="547.3" y1="676.4" x2="547.3" y2="678.8" stroke="#333" stroke-width="0.8"/>
<line x1="549.3" y1="676.4" x2="549.3" y2="678.8" stroke="#333" stroke-width="0.8"/>
<line x1="551.0" y1="676.4" x2="551.0" y2="680.2" stroke="#222" stroke-width="1"/>
<line x1="562.7" y1="676.4" x2="562.7" y2="678.8" stroke="#333" stroke-width="0.8"/>
<line x1="569.4" y1="676.4" x2="569.4" y2="678.8" stroke="#333" stroke-width="0.8"/>
<line x1="574.3" y1="676.4" x2="574.3" y2="678.8" stroke="#333" stroke-width="0.8"/>
<line x1="578.0" y1="676.4" x2="578.0" y2="678.8" stroke="#333" stroke-width="0.8"/>
<line x1="581.0" y1="676.4" x2="581.0" y2="678.8" stroke="#333" stroke-width="0.8"/>
<line x1="583.6" y1="676.4" x2="583.6" y2="678.8" stroke="#333" stroke-width="0.8"/>
<line x1="585.9" y1="676.4" x2="585.9" y2="678.8" stroke="#333" stroke-width="0.8"/>
<line x1="587.8" y1="676.4" x2="587.8" y2="678.8" stroke="#333" stroke-width="0.8"/>
<line x1="589.6" y1="676.4" x2="589.6" y2="680.2" stroke="#222" stroke-width="1"/>
<line x1="434.9" y1="522.2" x2="590.1" y2="522.2" stroke="#8a8a8a" stroke-width="1.2"/>
<line x1="589.6" y1="522.2" x2="589.6" y2="676.4" stroke="#5a5a5a" stroke-width="1.1"/>
<line x1="435.4" y1="521.7" x2="435.4" y2="676.4" stroke="#2c2c44" stroke-width="1.1"/>
<line x1="435.4" y1="676.4" x2="590.1" y2="676.4" stroke="#1a1a1a" stroke-width="1.1"/>
<line x1="431.7" y1="676.4" x2="435.4" y2="676.4" stroke="#222" stroke-width="1"/>
<text transform="translate(428.5,676.4) rotate(-90)" text-anchor="middle" font-size="8.4" letter-spacing="-0.35" fill="#222">0</text>
<text transform="translate(428.5,599.3) rotate(-90)" text-anchor="middle" font-size="8.4" letter-spacing="-0.35" fill="#222">50</text>
<text transform="translate(428.5,524.4) rotate(-90)" text-anchor="middle" font-size="8.4" letter-spacing="-0.35" fill="#222">10</text>
<text x="435.4" y="689.3" text-anchor="middle" font-size="8.5" fill="#222">10</text>
<text x="440.7" y="686.3" font-size="5.8" fill="#222">2</text>
<text x="473.9" y="689.3" text-anchor="middle" font-size="8.5" fill="#222">10</text>
<text x="479.2" y="686.3" font-size="5.8" fill="#222">3</text>
<text x="512.5" y="689.3" text-anchor="middle" font-size="8.5" fill="#222">10</text>
<text x="517.8" y="686.3" font-size="5.8" fill="#222">4</text>
<text x="551.0" y="689.3" text-anchor="middle" font-size="8.5" fill="#222">10</text>
<text x="556.3" y="686.3" font-size="5.8" fill="#222">5</text>
<text x="589.6" y="689.3" text-anchor="middle" font-size="8.5" fill="#222">10</text>
<text x="594.9" y="686.3" font-size="5.8" fill="#222">6</text>
<text x="512.5" y="699.1" text-anchor="middle" font-size="7.9" fill="#222">FITC-H</text>
<text transform="translate(418.1,599.3) rotate(-90)" text-anchor="middle" font-size="8" fill="#222">Count</text>
<text transform="translate(418.0,534.2) rotate(-90)" text-anchor="middle" font-size="8" fill="#222">( x 10<tspan font-size="5.2" dx="0.6" dy="-4.0">1</tspan><tspan dy="4.0"> )</tspan></text>
<text x="128.35" y="514.4" text-anchor="middle" class="serif" font-weight="bold" font-size="10.9" fill="#111"><tspan font-style="italic">E coli </tspan><tspan font-style="normal">Δ</tspan><tspan font-style="italic">tolC</tspan> Controls</text>
<text x="322.45" y="514.4" text-anchor="middle" class="serif" font-weight="bold" font-size="10.9" fill="#111"><tspan font-style="italic">E coli </tspan><tspan font-style="normal">Δ</tspan><tspan font-style="italic">tolC</tspan> 10 mins</text>
<text x="512.45" y="514.4" text-anchor="middle" class="serif" font-weight="bold" font-size="10.9" fill="#111"><tspan font-style="italic">E coli </tspan><tspan font-style="normal">Δ</tspan><tspan font-style="italic">tolC</tspan> 30 mins</text>
<rect x="612" y="536.2" width="23.7" height="10.4" fill="#ef6677" stroke="#333" stroke-width="0.8"/>
<text x="645.3" y="544.6" font-size="9.2" font-weight="bold" fill="#222">Control</text>
<rect x="612" y="552.7" width="23.7" height="10.4" fill="#1e8a46" stroke="#333" stroke-width="0.8"/>
<text x="645.3" y="561.1" font-size="9.2" font-weight="bold" fill="#222">2x MIC</text>
<rect x="612" y="569.1" width="23.7" height="10.4" fill="#a8307e" stroke="#333" stroke-width="0.8"/>
<text x="645.3" y="577.5" font-size="9.2" font-weight="bold" fill="#222">1x MIC</text>
<rect x="612" y="585.6" width="23.7" height="10.4" fill="#3c70ae" stroke="#333" stroke-width="0.8"/>
<text x="645.3" y="594.0" font-size="9.2" font-weight="bold" fill="#222">0.5x MIC</text>
<rect x="53" y="711.1" width="23.7" height="10.6" fill="#d3bf4a" stroke="#333" stroke-width="0.8"/>
<text x="82.2" y="719.8" font-size="9.2" font-weight="bold" fill="#222">Colistin</text>
<rect x="124.4" y="711.1" width="23.7" height="10.6" fill="#3c70ae" stroke="#333" stroke-width="0.8"/>
<text x="152.9" y="719.8" font-size="9.2" font-weight="bold" fill="#222">Novobiocin</text>
<polyline points="57.3,166.0 58.1,164.0 58.9,162.9 59.7,163.1 60.5,163.0 61.3,162.4 62.1,160.4 62.9,160.6 63.7,160.1 64.5,157.4 65.3,156.2 66.1,154.2 66.9,153.8 67.7,150.4 68.5,148.2 69.3,147.8 70.1,143.2 70.9,141.6 71.7,136.6 72.5,137.1 73.3,134.4 74.1,128.5 74.9,125.9 75.7,120.8 76.5,119.6 77.3,115.5 78.1,111.1 78.9,108.7 79.7,106.5 80.5,105.1 81.3,98.1 82.1,94.3 82.9,88.4 83.7,85.3 84.5,79.8 85.3,78.8 86.1,75.1 86.9,70.9 87.7,71.9 88.5,67.7 89.3,65.5 90.1,57.6 90.9,60.1 91.7,56.1 92.5,54.0 93.3,54.3 94.1,55.9 94.9,49.1 95.7,52.5 96.5,51.2 97.3,58.5 98.1,59.5 98.9,58.9 99.7,61.6 100.5,70.4 101.3,72.9 102.1,72.5 102.9,73.4 103.7,77.3 104.5,80.0 105.3,85.9 106.1,86.3 106.9,89.4 107.7,97.0 108.5,103.5 109.3,107.3 110.1,110.3 110.9,120.5 111.7,123.1 112.5,128.7 113.3,131.0 114.1,134.5 114.9,137.0 115.7,137.6 116.5,141.6 117.3,142.8 118.1,146.8 118.9,149.1 119.7,149.6 120.5,154.6 121.3,152.6 122.1,153.5 122.9,155.9 123.7,154.4 124.5,155.5 125.3,157.4 126.1,154.8 126.9,155.4 127.7,154.6 128.5,153.9 129.3,152.1 130.1,153.1 130.9,153.0 131.7,152.2 132.5,154.4 133.3,150.6 134.1,152.8 134.9,150.5 135.7,151.6 136.5,150.6 137.3,149.2 138.1,145.7 138.9,146.5 139.7,147.4 140.5,146.2 141.3,146.7 142.1,144.7 142.9,145.0 143.7,143.0 144.5,145.6 145.3,144.5 146.1,145.8 146.9,146.6 147.7,145.9 148.5,147.6 149.3,147.7 150.1,147.7 150.9,148.5 151.7,152.2 152.5,150.6 153.3,153.9 154.1,152.4 154.9,150.6 155.7,153.4 156.5,153.8 157.3,153.5 158.1,153.9 158.9,154.2 159.7,155.4 160.5,153.8 161.3,154.6 162.1,156.6 162.9,156.9 163.7,157.5 164.5,158.1 165.3,159.5 166.1,160.0 166.9,161.6 167.7,163.1 168.5,163.2 169.3,162.4 170.1,163.0 170.9,164.2 171.7,165.2 172.5,164.8 173.3,164.0 174.1,164.6 174.9,166.8 175.7,166.8 176.5,168.5 177.3,169.0 178.1,168.9 178.9,169.9 179.7,170.1 180.5,170.7 181.3,171.8 182.1,172.3 182.9,174.1 183.7,175.1 184.5,174.8 185.3,174.4 186.1,175.7 186.9,176.7 187.7,176.5 188.5,176.3 189.3,177.1 190.1,176.8 190.9,177.1 191.7,176.9 192.5,177.1 193.3,177.1 194.1,176.9 194.9,177.1" fill="none" stroke="#ec5a6e" stroke-width="1.1" stroke-linejoin="miter" stroke-miterlimit="4" opacity="1.0"/>
<polyline points="57.3,177.0 58.1,176.2 58.9,177.0 59.7,176.6 60.5,176.5 61.3,176.2 62.1,176.9 62.9,176.5 63.7,176.5 64.5,176.5 65.3,176.3 66.1,176.1 66.9,175.9 67.7,176.0 68.5,175.2 69.3,175.5 70.1,176.4 70.9,174.0 71.7,174.3 72.5,174.0 73.3,172.9 74.1,172.4 74.9,171.9 75.7,171.9 76.5,170.8 77.3,171.5 78.1,169.1 78.9,170.7 79.7,169.7 80.5,169.3 81.3,168.8 82.1,168.9 82.9,168.1 83.7,171.0 84.5,168.3 85.3,168.1 86.1,168.2 86.9,166.6 87.7,168.6 88.5,167.9 89.3,169.4 90.1,167.8 90.9,169.3 91.7,169.4 92.5,166.6 93.3,168.0 94.1,168.7 94.9,168.7 95.7,170.0 96.5,169.9 97.3,169.0 98.1,171.0 98.9,169.5 99.7,171.1 100.5,170.0 101.3,171.0 102.1,169.2 102.9,169.9 103.7,171.0 104.5,172.0 105.3,171.3 106.1,170.8 106.9,171.4 107.7,170.5 108.5,170.0 109.3,170.6 110.1,170.8 110.9,169.9 111.7,170.5 112.5,169.6 113.3,170.3 114.1,168.8 114.9,170.0 115.7,170.4 116.5,169.3 117.3,169.6 118.1,169.5 118.9,168.6 119.7,167.5 120.5,169.5 121.3,167.3 122.1,166.9 122.9,166.3 123.7,164.8 124.5,165.9 125.3,163.4 126.1,163.4 126.9,162.4 127.7,162.0 128.5,161.3 129.3,160.8 130.1,159.1 130.9,156.6 131.7,156.9 132.5,156.2 133.3,155.7 134.1,155.9 134.9,153.7 135.7,151.1 136.5,154.0 137.3,150.5 138.1,149.2 138.9,148.9 139.7,147.0 140.5,144.9 141.3,142.4 142.1,141.9 142.9,139.5 143.7,139.1 144.5,136.0 145.3,134.6 146.1,131.9 146.9,130.4 147.7,125.9 148.5,122.0 149.3,122.0 150.1,118.8 150.9,115.8 151.7,114.5 152.5,110.4 153.3,109.2 154.1,109.6 154.9,107.0 155.7,101.0 156.5,98.0 157.3,93.4 158.1,90.8 158.9,85.9 159.7,82.2 160.5,69.0 161.3,70.4 162.1,66.1 162.9,71.6 163.7,69.3 164.5,64.7 165.3,64.8 166.1,65.1 166.9,61.1 167.7,60.6 168.5,59.9 169.3,60.9 170.1,62.9 170.9,63.9 171.7,67.1 172.5,69.1 173.3,68.6 174.1,71.6 174.9,75.3 175.7,80.4 176.5,82.4 177.3,89.9 178.1,95.3 178.9,101.8 179.7,105.9 180.5,109.5 181.3,110.9 182.1,117.4 182.9,131.4 183.7,133.6 184.5,134.6 185.3,145.1 186.1,147.2 186.9,149.7 187.7,154.3 188.5,155.9 189.3,161.3 190.1,163.8 190.9,165.2 191.7,167.9 192.5,170.0 193.3,170.5 194.1,172.0 194.9,173.3 195.7,174.5 196.5,175.0 197.3,175.8 198.1,176.5 198.9,176.3 199.7,176.7 200.5,177.0" fill="none" stroke="#a3307e" stroke-width="1.1" stroke-linejoin="miter" stroke-miterlimit="4" opacity="1.0"/>
<line x1="56.800000000000004" y1="36" x2="56.800000000000004" y2="177.4" stroke="#6a2a5e" stroke-width="1.1"/>
<polyline points="247.2,164.9 248.0,163.9 248.8,161.9 249.6,163.0 250.4,160.2 251.2,160.5 252.0,159.6 252.8,156.6 253.6,157.3 254.4,156.5 255.2,154.5 256.0,152.4 256.8,151.7 257.6,148.6 258.4,148.2 259.2,145.3 260.0,143.4 260.8,142.7 261.6,140.8 262.4,138.6 263.2,133.4 264.0,129.4 264.8,125.6 265.6,121.0 266.4,120.0 267.2,114.8 268.0,111.4 268.8,107.4 269.6,107.1 270.4,102.7 271.2,101.6 272.0,94.2 272.8,93.1 273.6,87.4 274.4,78.6 275.2,82.3 276.0,72.6 276.8,70.5 277.6,69.0 278.4,64.6 279.2,62.0 280.0,58.6 280.8,59.3 281.6,57.9 282.4,55.8 283.2,54.8 284.0,51.2 284.8,52.2 285.6,48.0 286.4,56.5 287.2,57.1 288.0,59.9 288.8,65.8 289.6,59.7 290.4,72.0 291.2,69.8 292.0,72.8 292.8,70.6 293.6,81.1 294.4,77.5 295.2,84.6 296.0,87.1 296.8,92.3 297.6,94.2 298.4,102.3 299.2,105.4 300.0,110.5 300.8,113.9 301.6,126.2 302.4,124.1 303.2,128.7 304.0,134.0 304.8,135.8 305.6,139.5 306.4,139.1 307.2,143.4 308.0,146.0 308.8,147.9 309.6,149.3 310.4,150.6 311.2,152.6 312.0,150.4 312.8,155.6 313.6,157.8 314.4,153.9 315.2,153.8 316.0,153.0 316.8,153.4 317.6,153.0 318.4,152.2 319.2,151.3 320.0,152.6 320.8,152.3 321.6,149.3 322.4,150.6 323.2,152.0 324.0,147.7 324.8,149.0 325.6,149.8 326.4,149.7 327.2,147.2 328.0,147.9 328.8,147.5 329.6,147.1 330.4,145.4 331.2,142.7 332.0,144.1 332.8,145.0 333.6,141.9 334.4,142.6 335.2,141.9 336.0,142.2 336.8,145.0 337.6,146.0 338.4,146.8 339.2,148.9 340.0,147.4 340.8,147.3 341.6,149.4 342.4,150.6 343.2,151.2 344.0,152.3 344.8,152.7 345.6,152.6 346.4,153.3 347.2,153.1 348.0,154.6 348.8,152.8 349.6,153.5 350.4,155.2 351.2,157.1 352.0,155.4 352.8,155.2 353.6,158.0 354.4,158.6 355.2,159.5 356.0,159.0 356.8,161.3 357.6,160.2 358.4,162.0 359.2,161.5 360.0,162.8 360.8,163.5 361.6,164.9 362.4,164.6 363.2,164.6 364.0,164.2 364.8,165.0 365.6,166.3 366.4,166.1 367.2,166.5 368.0,168.2 368.8,169.3 369.6,170.0 370.4,170.0 371.2,171.0 372.0,172.6 372.8,172.7 373.6,173.8 374.4,174.4 375.2,174.0 376.0,174.5 376.8,175.5 377.6,175.5 378.4,175.6 379.2,176.0 380.0,176.0 380.8,175.9 381.6,176.0 382.4,176.0 383.2,176.0 384.0,176.0" fill="none" stroke="#ec5a6e" stroke-width="1.1" stroke-linejoin="miter" stroke-miterlimit="4" opacity="1.0"/>
<polyline points="246.8,170.0 247.6,169.6 248.4,169.0 249.2,169.3 250.0,168.4 250.8,167.6 251.6,167.6 252.4,166.3 253.2,167.7 254.0,166.6 254.8,166.7 255.6,166.3 256.4,165.2 257.2,164.1 258.0,163.0 258.8,161.9 259.6,159.0 260.4,159.1 261.2,160.3 262.0,157.4 262.8,157.2 263.6,156.1 264.4,152.9 265.2,153.3 266.0,153.6 266.8,148.6 267.6,145.9 268.4,143.4 269.2,139.7 270.0,136.7 270.8,133.6 271.6,132.0 272.4,129.3 273.2,124.7 274.0,127.1 274.8,125.5 275.6,123.1 276.4,119.4 277.2,120.8 278.0,115.7 278.8,118.6 279.6,116.5 280.4,113.1 281.2,112.9 282.0,111.1 282.8,107.9 283.6,106.3 284.4,106.4 285.2,106.1 286.0,102.1 286.8,102.6 287.6,102.5 288.4,98.7 289.2,102.3 290.0,100.7 290.8,100.9 291.6,103.8 292.4,106.7 293.2,106.9 294.0,110.3 294.8,112.0 295.6,114.5 296.4,112.3 297.2,117.4 298.0,116.4 298.8,119.5 299.6,122.4 300.4,122.7 301.2,125.1 302.0,127.1 302.8,131.2 303.6,130.7 304.4,131.3 305.2,133.7 306.0,134.7 306.8,135.7 307.6,138.6 308.4,137.5 309.2,143.2 310.0,142.3 310.8,146.0 311.6,142.4 312.4,144.0 313.2,142.7 314.0,146.1 314.8,149.0 315.6,145.7 316.4,149.6 317.2,150.1 318.0,149.1 318.8,148.2 319.6,149.4 320.4,148.3 321.2,150.3 322.0,145.4 322.8,147.0 323.6,146.1 324.4,145.0 325.2,145.0 326.0,144.4 326.8,145.2 327.6,143.6 328.4,142.2 329.2,140.7 330.0,141.4 330.8,139.9 331.6,138.3 332.4,136.7 333.2,136.2 334.0,136.1 334.8,136.4 335.6,135.5 336.4,138.8 337.2,140.7 338.0,135.8 338.8,137.4 339.6,135.8 340.4,137.1 341.2,141.0 342.0,141.3 342.8,145.7 343.6,146.8 344.4,146.3 345.2,146.8 346.0,148.2 346.8,148.8 347.6,146.5 348.4,148.3 349.2,150.2 350.0,148.1 350.8,148.8 351.6,149.0 352.4,148.2 353.2,148.8 354.0,147.2 354.8,150.1 355.6,151.0 356.4,151.0 357.2,154.1 358.0,153.7 358.8,156.8 359.6,156.6 360.4,158.4 361.2,156.5 362.0,157.8 362.8,155.8 363.6,154.9 364.4,154.5 365.2,153.7 366.0,154.9 366.8,159.3 367.6,159.9 368.4,159.1 369.2,161.3 370.0,164.3 370.8,164.1 371.6,166.6 372.4,167.5 373.2,168.8 374.0,169.1 374.8,168.4 375.6,170.5 376.4,171.7 377.2,171.1 378.0,173.5 378.8,174.1 379.6,174.8 380.4,175.0 381.2,175.6 382.0,175.3 382.8,176.0 383.6,176.0" fill="none" stroke="#a3307e" stroke-width="1.1" stroke-linejoin="miter" stroke-miterlimit="4" opacity="1.0"/>
<line x1="246.7" y1="83" x2="246.7" y2="176.3" stroke="#6a2a5e" stroke-width="1.1"/>
<polyline points="435.3,168.0 436.1,168.2 436.9,167.5 437.7,165.4 438.5,167.1 439.3,164.6 440.1,165.8 440.9,162.2 441.7,162.3 442.5,160.4 443.3,161.3 444.1,159.2 444.9,158.4 445.7,157.2 446.5,154.5 447.3,154.4 448.1,152.0 448.9,149.3 449.7,148.5 450.5,147.2 451.3,141.5 452.1,141.3 452.9,139.2 453.7,135.3 454.5,133.8 455.3,131.3 456.1,129.1 456.9,123.1 457.7,123.9 458.5,120.9 459.3,116.9 460.1,111.3 460.9,111.8 461.7,109.4 462.5,101.1 463.3,105.9 464.1,101.5 464.9,97.2 465.7,91.9 466.5,96.2 467.3,97.3 468.1,89.6 468.9,90.3 469.7,88.3 470.5,85.0 471.3,84.1 472.1,83.0 472.9,84.0 473.7,80.5 474.5,81.3 475.3,86.2 476.1,89.5 476.9,89.6 477.7,92.3 478.5,97.2 479.3,97.9 480.1,96.9 480.9,101.0 481.7,103.4 482.5,104.6 483.3,107.5 484.1,110.2 484.9,116.6 485.7,113.7 486.5,119.8 487.3,125.4 488.1,126.8 488.9,132.2 489.7,136.5 490.5,138.2 491.3,139.3 492.1,144.0 492.9,144.8 493.7,146.2 494.5,151.8 495.3,152.9 496.1,153.0 496.9,157.0 497.7,156.6 498.5,155.9 499.3,157.1 500.1,158.4 500.9,161.3 501.7,157.5 502.5,159.2 503.3,158.8 504.1,158.9 504.9,160.9 505.7,160.4 506.5,160.0 507.3,156.8 508.1,159.3 508.9,158.5 509.7,158.3 510.5,157.2 511.3,157.0 512.1,156.9 512.9,158.1 513.7,159.5 514.5,155.4 515.3,154.8 516.1,153.2 516.9,154.1 517.7,154.2 518.5,152.5 519.3,154.2 520.1,153.3 520.9,152.9 521.7,151.2 522.5,149.1 523.3,150.9 524.1,151.1 524.9,152.8 525.7,153.6 526.5,155.0 527.3,155.4 528.1,158.2 528.9,157.4 529.7,158.0 530.5,156.3 531.3,156.9 532.1,156.8 532.9,156.7 533.7,158.8 534.5,157.6 535.3,156.9 536.1,159.1 536.9,158.2 537.7,159.7 538.5,161.4 539.3,160.3 540.1,161.8 540.9,161.6 541.7,162.8 542.5,162.7 543.3,165.4 544.1,162.4 544.9,163.5 545.7,165.5 546.5,166.4 547.3,166.1 548.1,165.9 548.9,166.4 549.7,166.7 550.5,168.8 551.3,168.4 552.1,166.9 552.9,168.0 553.7,169.7 554.5,169.8 555.3,170.7 556.1,171.0 556.9,170.3 557.7,171.8 558.5,171.6 559.3,172.7 560.1,174.1 560.9,174.2 561.7,173.4 562.5,175.1 563.3,175.5 564.1,174.9 564.9,175.6 565.7,175.8 566.5,175.6 567.3,176.1 568.1,176.1 568.9,176.1 569.7,176.1 570.5,176.1 571.3,176.1 572.1,176.1" fill="none" stroke="#ec5a6e" stroke-width="1.1" stroke-linejoin="miter" stroke-miterlimit="4" opacity="1.0"/>
<polyline points="434.8,173.6 435.6,172.9 436.4,173.6 437.2,172.6 438.0,171.7 438.8,170.4 439.6,170.9 440.4,171.6 441.2,170.0 442.0,170.7 442.8,168.8 443.6,169.5 444.4,167.8 445.2,168.8 446.0,169.0 446.8,169.0 447.6,167.8 448.4,166.8 449.2,165.7 450.0,165.9 450.8,166.2 451.6,164.6 452.4,165.5 453.2,162.9 454.0,163.0 454.8,159.8 455.6,159.1 456.4,158.6 457.2,159.0 458.0,156.5 458.8,155.7 459.6,155.7 460.4,154.7 461.2,151.5 462.0,152.1 462.8,149.9 463.6,147.3 464.4,149.4 465.2,143.8 466.0,143.0 466.8,143.4 467.6,142.3 468.4,141.5 469.2,137.7 470.0,141.7 470.8,136.1 471.6,136.4 472.4,136.9 473.2,136.0 474.0,135.0 474.8,134.0 475.6,131.7 476.4,133.5 477.2,130.1 478.0,129.8 478.8,131.2 479.6,129.6 480.4,131.0 481.2,129.7 482.0,128.5 482.8,125.7 483.6,128.3 484.4,128.3 485.2,128.5 486.0,129.8 486.8,132.3 487.6,128.7 488.4,132.6 489.2,132.7 490.0,132.9 490.8,130.9 491.6,127.6 492.4,127.7 493.2,131.0 494.0,132.8 494.8,134.4 495.6,137.1 496.4,135.9 497.2,138.1 498.0,136.1 498.8,140.2 499.6,142.1 500.4,144.1 501.2,144.9 502.0,142.6 502.8,143.8 503.6,146.5 504.4,147.9 505.2,146.5 506.0,148.1 506.8,148.1 507.6,148.8 508.4,149.7 509.2,150.8 510.0,148.4 510.8,148.3 511.6,148.1 512.4,147.1 513.2,147.1 514.0,149.2 514.8,148.3 515.6,151.9 516.4,148.6 517.2,149.0 518.0,147.0 518.8,146.1 519.6,147.7 520.4,146.1 521.2,144.5 522.0,146.8 522.8,146.5 523.6,147.8 524.4,146.8 525.2,147.7 526.0,149.4 526.8,150.5 527.6,151.8 528.4,148.4 529.2,150.4 530.0,151.2 530.8,151.8 531.6,153.6 532.4,153.2 533.2,154.3 534.0,157.6 534.8,155.2 535.6,155.1 536.4,155.5 537.2,155.1 538.0,153.4 538.8,154.9 539.6,154.2 540.4,154.9 541.2,158.1 542.0,155.2 542.8,157.3 543.6,158.1 544.4,157.2 545.2,156.1 546.0,159.4 546.8,159.5 547.6,158.6 548.4,161.0 549.2,160.5 550.0,159.4 550.8,158.8 551.6,159.2 552.4,159.1 553.2,159.3 554.0,161.4 554.8,162.2 555.6,163.2 556.4,164.2 557.2,164.4 558.0,166.2 558.8,169.8 559.6,169.1 560.4,171.1 561.2,171.9 562.0,171.2 562.8,171.9 563.6,172.5 564.4,173.3 565.2,173.2 566.0,174.9 566.8,174.4 567.6,175.4 568.4,175.6 569.2,176.1 570.0,175.4 570.8,176.1" fill="none" stroke="#3a73b4" stroke-width="1.1" stroke-linejoin="miter" stroke-miterlimit="4" opacity="1.0"/>
<polyline points="434.8,176.0 435.6,176.0 436.4,175.6 437.2,175.7 438.0,175.6 438.8,175.8 439.6,175.4 440.4,174.8 441.2,174.9 442.0,174.5 442.8,174.6 443.6,174.2 444.4,174.0 445.2,174.6 446.0,173.0 446.8,172.8 447.6,172.4 448.4,173.2 449.2,173.0 450.0,172.2 450.8,171.7 451.6,170.9 452.4,170.9 453.2,170.3 454.0,170.8 454.8,169.9 455.6,169.6 456.4,170.0 457.2,168.1 458.0,168.6 458.8,167.8 459.6,168.9 460.4,168.8 461.2,168.4 462.0,168.3 462.8,167.8 463.6,168.1 464.4,168.6 465.2,169.0 466.0,168.7 466.8,167.5 467.6,169.0 468.4,168.2 469.2,168.0 470.0,169.3 470.8,168.1 471.6,167.0 472.4,169.4 473.2,168.1 474.0,167.9 474.8,168.5 475.6,167.7 476.4,168.3 477.2,169.5 478.0,168.2 478.8,168.6 479.6,168.6 480.4,168.5 481.2,169.4 482.0,169.8 482.8,170.9 483.6,169.8 484.4,170.8 485.2,170.9 486.0,171.6 486.8,171.6 487.6,171.6 488.4,170.8 489.2,173.0 490.0,172.9 490.8,172.2 491.6,171.8 492.4,172.4 493.2,173.9 494.0,174.4 494.8,173.1 495.6,173.8 496.4,174.1 497.2,173.1 498.0,173.0 498.8,173.4 499.6,173.2 500.4,172.9 501.2,172.1 502.0,172.4 502.8,172.3 503.6,172.1 504.4,173.0 505.2,171.2 506.0,171.1 506.8,171.0 507.6,172.3 508.4,171.3 509.2,170.2 510.0,171.7 510.8,170.5 511.6,169.5 512.4,170.8 513.2,168.5 514.0,168.8 514.8,168.8 515.6,167.9 516.4,167.1 517.2,166.9 518.0,165.5 518.8,166.2 519.6,165.3 520.4,163.4 521.2,163.5 522.0,163.6 522.8,161.3 523.6,160.2 524.4,161.4 525.2,161.6 526.0,159.6 526.8,158.7 527.6,157.6 528.4,154.2 529.2,155.0 530.0,150.4 530.8,151.3 531.6,148.6 532.4,144.6 533.2,141.5 534.0,139.3 534.8,137.4 535.6,135.2 536.4,132.8 537.2,130.0 538.0,128.8 538.8,125.3 539.6,121.2 540.4,118.3 541.2,113.4 542.0,110.7 542.8,105.9 543.6,106.1 544.4,104.0 545.2,100.2 546.0,95.8 546.8,90.7 547.6,90.0 548.4,85.7 549.2,80.4 550.0,87.5 550.8,82.6 551.6,78.1 552.4,76.8 553.2,77.2 554.0,84.2 554.8,85.4 555.6,85.8 556.4,87.2 557.2,83.8 558.0,94.0 558.8,100.8 559.6,105.0 560.4,109.8 561.2,113.7 562.0,122.0 562.8,121.8 563.6,122.7 564.4,129.1 565.2,130.3 566.0,132.1 566.8,136.4 567.6,140.8 568.4,149.9 569.2,152.1 570.0,155.5 570.8,157.6 571.6,159.8 572.4,165.5 573.2,164.4 574.0,168.4 574.8,168.5 575.6,171.2 576.4,171.2 577.2,171.5 578.0,173.0 578.8,173.5 579.6,173.7 580.4,174.4 581.2,174.9 582.0,174.5 582.8,174.9 583.6,175.6 584.4,175.7" fill="none" stroke="#a3307e" stroke-width="1.1" stroke-linejoin="miter" stroke-miterlimit="4" opacity="1.0"/>
<polyline points="462.0,176.1 462.8,176.1 463.6,175.9 464.4,176.1 465.2,176.1 466.0,176.1 466.8,176.1 467.6,176.1 468.4,176.1 469.2,176.1 470.0,176.1 470.8,176.1 471.6,176.1 472.4,176.1 473.2,175.8 474.0,176.0 474.8,176.1 475.6,175.9 476.4,176.1 477.2,176.1 478.0,175.8 478.8,176.1 479.6,175.9 480.4,176.0 481.2,175.1 482.0,175.5 482.8,175.7 483.6,176.1 484.4,175.4 485.2,175.9 486.0,175.1 486.8,175.9 487.6,175.3 488.4,174.8 489.2,175.4 490.0,174.9 490.8,174.8 491.6,174.3 492.4,174.8 493.2,174.2 494.0,173.4 494.8,174.8 495.6,174.4 496.4,173.6 497.2,174.0 498.0,174.1 498.8,172.5 499.6,172.5 500.4,172.1 501.2,171.9 502.0,171.8 502.8,172.4 503.6,173.1 504.4,170.9 505.2,171.5 506.0,170.2 506.8,169.5 507.6,170.1 508.4,168.9 509.2,166.8 510.0,167.0 510.8,168.3 511.6,166.6 512.4,165.8 513.2,164.7 514.0,163.8 514.8,163.8 515.6,163.1 516.4,161.2 517.2,162.5 518.0,159.0 518.8,158.6 519.6,158.3 520.4,157.2 521.2,155.0 522.0,155.5 522.8,155.2 523.6,150.6 524.4,147.6 525.2,147.8 526.0,145.3 526.8,142.6 527.6,140.7 528.4,135.6 529.2,132.2 530.0,131.0 530.8,127.5 531.6,128.3 532.4,123.5 533.2,121.8 534.0,117.4 534.8,111.9 535.6,108.2 536.4,103.2 537.2,99.7 538.0,99.3 538.8,89.6 539.6,89.4 540.4,79.9 541.2,73.5 542.0,71.4 542.8,68.9 543.6,69.2 544.4,70.5 545.2,62.8 546.0,55.7 546.8,55.5 547.6,57.3 548.4,59.9 549.2,55.9 550.0,53.5 550.8,50.4 551.6,57.1 552.4,57.2 553.2,61.1 554.0,55.6 554.8,57.4 555.6,55.3 556.4,60.7 557.2,73.2 558.0,77.3 558.8,82.2 559.6,83.3 560.4,84.9 561.2,87.4 562.0,92.1 562.8,99.3 563.6,109.1 564.4,115.3 565.2,124.9 566.0,127.1 566.8,133.2 567.6,139.2 568.4,143.7 569.2,147.0 570.0,152.1 570.8,155.6 571.6,160.3 572.4,162.7 573.2,165.7 574.0,169.0 574.8,169.8 575.6,171.1 576.4,172.5 577.2,172.6 578.0,172.7 578.8,173.6 579.6,174.7 580.4,175.4 581.2,175.3 582.0,175.6 582.8,175.6 583.6,175.8" fill="none" stroke="#22914a" stroke-width="1.1" stroke-linejoin="miter" stroke-miterlimit="4" opacity="1.0"/>
<line x1="434.8" y1="48" x2="434.8" y2="176.4" stroke="#6a2a5e" stroke-width="1.1"/>
<polyline points="54.3,670.7 55.1,670.7 55.9,668.9 56.7,667.7 57.5,667.9 58.3,667.6 59.1,665.7 59.9,664.2 60.7,662.5 61.5,663.4 62.3,662.3 63.1,659.2 63.9,658.0 64.7,655.3 65.5,653.9 66.3,652.7 67.1,650.2 67.9,643.7 68.7,644.2 69.5,641.3 70.3,638.0 71.1,632.6 71.9,629.0 72.7,626.0 73.5,621.7 74.3,617.2 75.1,611.3 75.9,601.3 76.7,588.9 77.5,584.8 78.3,576.9 79.1,578.4 79.9,572.3 80.7,569.7 81.5,560.0 82.3,560.5 83.1,567.8 83.9,562.2 84.7,563.6 85.5,559.0 86.3,565.1 87.1,564.9 87.9,565.4 88.7,570.0 89.5,572.8 90.3,577.3 91.1,582.8 91.9,582.3 92.7,588.2 93.5,587.3 94.3,597.9 95.1,601.3 95.9,607.0 96.7,609.3 97.5,615.9 98.3,617.0 99.1,622.6 99.9,624.6 100.7,630.8 101.5,637.1 102.3,644.2 103.1,648.1 103.9,653.1 104.7,655.7 105.5,661.0 106.3,663.0 107.1,665.7 107.9,667.9 108.7,669.1 109.5,670.1 110.3,671.3 111.1,672.1 111.9,672.3 112.7,672.3 113.5,672.4 114.3,673.1 115.1,673.4 115.9,673.8 116.7,674.0 117.5,674.3 118.3,674.2 119.1,673.8 119.9,674.8 120.7,675.0 121.5,674.0 122.3,674.7 123.1,674.5 123.9,674.6 124.7,675.4 125.5,674.1 126.3,674.4 127.1,675.0 127.9,674.8 128.7,675.1 129.5,675.5 130.3,675.2 131.1,675.1 131.9,674.8 132.7,674.9 133.5,675.1 134.3,674.6 135.1,675.3 135.9,674.6 136.7,674.3 137.5,674.8 138.3,675.3 139.1,674.8 139.9,674.1 140.7,673.9 141.5,673.3 142.3,674.3 143.1,673.7 143.9,673.3 144.7,673.7 145.5,674.7 146.3,673.1 147.1,672.4 147.9,673.1 148.7,674.1 149.5,673.9 150.3,673.7 151.1,672.8 151.9,673.8 152.7,674.1 153.5,673.6 154.3,674.3 155.1,673.5 155.9,674.6 156.7,674.5 157.5,674.0 158.3,673.7 159.1,674.0 159.9,674.2 160.7,675.1 161.5,674.6 162.3,674.6 163.1,674.5 163.9,674.0 164.7,674.4 165.5,674.0 166.3,674.3 167.1,674.4 167.9,674.2 168.7,674.1 169.5,673.9 170.3,674.5 171.1,674.4 171.9,674.9 172.7,673.7 173.5,674.0 174.3,674.9 175.1,675.2 175.9,675.7 176.7,675.5 177.5,675.6 178.3,675.2 179.1,675.9 179.9,676.0 180.7,676.0 181.5,676.0" fill="none" stroke="#ec5a6e" stroke-width="1.1" stroke-linejoin="miter" stroke-miterlimit="4" opacity="1.0"/>
<polyline points="53.8,673.1 54.6,673.5 55.4,672.3 56.2,672.2 57.0,671.9 57.8,670.7 58.6,670.9 59.4,670.8 60.2,669.1 61.0,670.2 61.8,670.4 62.6,670.0 63.4,669.0 64.2,667.5 65.0,666.6 65.8,665.4 66.6,663.8 67.4,662.8 68.2,662.6 69.0,660.8 69.8,660.4 70.6,660.5 71.4,658.2 72.2,657.9 73.0,656.9 73.8,653.0 74.6,652.4 75.4,651.9 76.2,649.3 77.0,644.1 77.8,644.9 78.6,641.1 79.4,638.7 80.2,636.7 81.0,634.6 81.8,634.2 82.6,632.4 83.4,630.3 84.2,629.1 85.0,625.9 85.8,622.9 86.6,623.3 87.4,615.9 88.2,615.3 89.0,619.1 89.8,620.8 90.6,620.2 91.4,621.1 92.2,624.9 93.0,619.3 93.8,623.6 94.6,626.0 95.4,625.7 96.2,629.6 97.0,633.0 97.8,632.4 98.6,634.7 99.4,638.6 100.2,638.3 101.0,641.0 101.8,645.2 102.6,644.1 103.4,649.3 104.2,654.4 105.0,656.0 105.8,659.1 106.6,660.6 107.4,664.8 108.2,664.6 109.0,666.1 109.8,667.5 110.6,668.5 111.4,668.9 112.2,669.9 113.0,670.7 113.8,671.6 114.6,670.7 115.4,671.0 116.2,671.6 117.0,671.8 117.8,671.4 118.6,673.3 119.4,671.5 120.2,673.0 121.0,671.3 121.8,670.7 122.6,670.1 123.4,671.4 124.2,670.7 125.0,671.0 125.8,672.2 126.6,670.2 127.4,670.5 128.2,670.3 129.0,670.7 129.8,669.9 130.6,669.7 131.4,668.7 132.2,669.4 133.0,667.2 133.8,669.9 134.6,669.9 135.4,669.8 136.2,670.4 137.0,668.9 137.8,669.6 138.6,670.9 139.4,670.1 140.2,669.5 141.0,671.3 141.8,670.3 142.6,670.7 143.4,669.1 144.2,670.4 145.0,671.1 145.8,671.2 146.6,669.8 147.4,671.3 148.2,669.7 149.0,672.1 149.8,671.4 150.6,671.5 151.4,671.8 152.2,671.6 153.0,671.2 153.8,672.0 154.6,672.6 155.4,671.1 156.2,671.1 157.0,672.4 157.8,672.0 158.6,673.7 159.4,671.9 160.2,673.4 161.0,673.3 161.8,672.4 162.6,674.5 163.4,674.4 164.2,675.2 165.0,675.8 165.8,675.9 166.6,675.7 167.4,676.0" fill="none" stroke="#3a73b4" stroke-width="1.1" stroke-linejoin="miter" stroke-miterlimit="4" opacity="1.0"/>
<polyline points="78.0,676.0 78.8,676.0 79.6,675.8 80.4,676.0 81.2,676.0 82.0,675.8 82.8,675.6 83.6,675.6 84.4,675.5 85.2,675.6 86.0,675.7 86.8,675.7 87.6,675.4 88.4,675.4 89.2,674.8 90.0,674.9 90.8,675.5 91.6,674.6 92.4,674.8 93.2,674.3 94.0,674.0 94.8,674.3 95.6,675.2 96.4,674.0 97.2,674.9 98.0,673.4 98.8,674.3 99.6,673.9 100.4,672.9 101.2,674.5 102.0,673.5 102.8,673.9 103.6,673.5 104.4,673.5 105.2,672.6 106.0,672.9 106.8,672.4 107.6,672.1 108.4,673.2 109.2,671.2 110.0,672.0 110.8,672.6 111.6,671.9 112.4,670.8 113.2,670.5 114.0,671.4 114.8,670.8 115.6,670.6 116.4,669.9 117.2,670.5 118.0,669.7 118.8,670.8 119.6,670.5 120.4,669.4 121.2,669.2 122.0,669.6 122.8,668.9 123.6,669.0 124.4,668.4 125.2,667.8 126.0,668.0 126.8,667.5 127.6,668.1 128.4,667.9 129.2,669.0 130.0,666.6 130.8,666.5 131.6,665.7 132.4,667.2 133.2,665.4 134.0,664.8 134.8,665.1 135.6,661.9 136.4,660.8 137.2,662.4 138.0,659.9 138.8,657.8 139.6,659.9 140.4,657.0 141.2,656.0 142.0,655.8 142.8,659.7 143.6,660.2 144.4,659.5 145.2,658.5 146.0,658.9 146.8,655.3 147.6,653.0 148.4,649.7 149.2,652.0 150.0,651.3 150.8,651.7 151.6,651.3 152.4,651.8 153.2,651.1 154.0,649.0 154.8,648.6 155.6,649.4 156.4,647.1 157.2,643.5 158.0,642.6 158.8,641.1 159.6,637.9 160.4,631.1 161.2,633.4 162.0,628.9 162.8,619.8 163.6,611.5 164.4,601.8 165.2,597.8 166.0,596.6 166.8,598.3 167.6,590.2 168.4,589.3 169.2,590.3 170.0,589.2 170.8,573.7 171.6,575.7 172.4,563.5 173.2,561.9 174.0,561.4 174.8,560.8 175.6,569.9 176.4,573.3 177.2,587.1 178.0,588.6 178.8,599.2 179.6,609.1 180.4,616.8 181.2,621.0 182.0,623.4 182.8,625.4 183.6,627.6 184.4,631.9 185.2,634.7 186.0,638.4 186.8,643.6 187.6,646.9 188.4,652.5 189.2,657.7 190.0,661.0 190.8,663.7 191.6,666.8 192.4,669.2 193.2,669.7 194.0,671.3 194.8,671.8 195.6,673.4 196.4,673.9 197.2,674.5 198.0,675.3 198.8,675.4 199.6,676.0 200.4,676.0" fill="none" stroke="#cdb843" stroke-width="1.1" stroke-linejoin="miter" stroke-miterlimit="4" opacity="1.0"/>
<line x1="53.7" y1="522.0" x2="53.7" y2="676.3" stroke="#2a3048" stroke-width="1.2"/>
<polyline points="244.6,670.8 245.4,669.2 246.2,668.6 247.0,669.5 247.8,669.1 248.6,666.8 249.4,665.1 250.2,664.8 251.0,664.8 251.8,662.9 252.6,659.9 253.4,661.3 254.2,657.6 255.0,656.5 255.8,654.5 256.6,651.8 257.4,650.6 258.2,647.1 259.0,641.5 259.8,640.8 260.6,637.0 261.4,634.8 262.2,630.0 263.0,624.4 263.8,619.6 264.6,616.6 265.4,611.4 266.2,602.1 267.0,588.5 267.8,579.0 268.6,578.8 269.4,573.1 270.2,572.1 271.0,570.0 271.8,563.0 272.6,559.4 273.4,569.6 274.2,572.3 275.0,565.2 275.8,560.7 276.6,561.4 277.4,562.6 278.2,569.1 279.0,569.2 279.8,571.7 280.6,577.0 281.4,577.2 282.2,584.6 283.0,586.8 283.8,591.0 284.6,598.1 285.4,603.0 286.2,606.9 287.0,611.3 287.8,616.0 288.6,619.7 289.4,622.8 290.2,629.3 291.0,631.8 291.8,639.1 292.6,643.9 293.4,650.7 294.2,653.8 295.0,658.0 295.8,661.1 296.6,664.4 297.4,666.2 298.2,667.1 299.0,670.6 299.8,670.0 300.6,670.9 301.4,671.9 302.2,672.9 303.0,671.9 303.8,673.1 304.6,673.2 305.4,674.2 306.2,674.6 307.0,673.9 307.8,674.2 308.6,674.7 309.4,674.8 310.2,674.5 311.0,675.1 311.8,675.2 312.6,674.9 313.4,674.6 314.2,674.7 315.0,675.0 315.8,674.6 316.6,675.2 317.4,675.4 318.2,674.4 319.0,675.4 319.8,675.1 320.6,675.1 321.4,675.3 322.2,675.2 323.0,675.0 323.8,675.0 324.6,675.4 325.4,675.1 326.2,674.5 327.0,674.6 327.8,674.9 328.6,674.6 329.4,674.9 330.2,674.9 331.0,674.4 331.8,673.4 332.6,674.2 333.4,674.7 334.2,673.8 335.0,674.0 335.8,673.3 336.6,673.0 337.4,673.8 338.2,673.6 339.0,674.1 339.8,673.3 340.6,674.3 341.4,674.1 342.2,673.1 343.0,674.7 343.8,674.3 344.6,674.4 345.4,674.2 346.2,674.2 347.0,673.8 347.8,674.2 348.6,674.1 349.4,674.9 350.2,674.2 351.0,675.0 351.8,673.9 352.6,674.4 353.4,674.0 354.2,674.6 355.0,674.3 355.8,674.4 356.6,674.2 357.4,674.4 358.2,674.6 359.0,674.6 359.8,674.7 360.6,674.8 361.4,674.9 362.2,675.0 363.0,673.8 363.8,675.0 364.6,675.3 365.4,674.8 366.2,675.3 367.0,675.7 367.8,675.5 368.6,675.4 369.4,676.1 370.2,675.8 371.0,676.1 371.8,676.1" fill="none" stroke="#ec5a6e" stroke-width="1.1" stroke-linejoin="miter" stroke-miterlimit="4" opacity="1.0"/>
<polyline points="244.3,675.3 245.1,675.1 245.9,675.1 246.7,675.0 247.5,675.1 248.3,674.6 249.1,674.6 249.9,674.0 250.7,674.8 251.5,673.0 252.3,675.5 253.1,673.7 253.9,673.1 254.7,673.4 255.5,673.4 256.3,672.8 257.1,672.0 257.9,671.4 258.7,672.6 259.5,671.1 260.3,671.1 261.1,669.5 261.9,670.0 262.7,669.0 263.5,667.8 264.3,668.3 265.1,667.4 265.9,667.6 266.7,666.7 267.5,667.5 268.3,666.1 269.1,665.2 269.9,664.7 270.7,661.5 271.5,664.9 272.3,664.2 273.1,661.0 273.9,659.6 274.7,658.7 275.5,655.9 276.3,653.0 277.1,654.1 277.9,653.6 278.7,651.0 279.5,648.2 280.3,648.1 281.1,647.9 281.9,646.3 282.7,645.5 283.5,647.2 284.3,643.2 285.1,644.0 285.9,642.6 286.7,642.9 287.5,642.6 288.3,642.2 289.1,644.5 289.9,644.3 290.7,642.1 291.5,640.7 292.3,641.4 293.1,642.5 293.9,647.3 294.7,647.2 295.5,646.5 296.3,644.9 297.1,647.9 297.9,647.9 298.7,648.3 299.5,651.0 300.3,651.2 301.1,651.3 301.9,656.5 302.7,656.2 303.5,658.6 304.3,657.0 305.1,659.5 305.9,660.5 306.7,662.1 307.5,663.7 308.3,663.4 309.1,663.7 309.9,664.5 310.7,663.4 311.5,664.7 312.3,666.4 313.1,666.3 313.9,666.1 314.7,667.7 315.5,667.1 316.3,667.8 317.1,667.4 317.9,667.6 318.7,668.4 319.5,667.2 320.3,668.8 321.1,668.0 321.9,669.4 322.7,669.5 323.5,669.3 324.3,669.2 325.1,668.3 325.9,669.8 326.7,667.2 327.5,668.9 328.3,666.5 329.1,667.2 329.9,667.5 330.7,666.2 331.5,667.1 332.3,666.6 333.1,666.4 333.9,664.0 334.7,667.0 335.5,664.4 336.3,666.0 337.1,666.2 337.9,665.8 338.7,664.1 339.5,665.1 340.3,665.4 341.1,664.1 341.9,664.2 342.7,663.4 343.5,665.2 344.3,662.7 345.1,662.7 345.9,664.2 346.7,663.6 347.5,662.5 348.3,662.7 349.1,661.3 349.9,661.0 350.7,661.3 351.5,662.1 352.3,662.7 353.1,660.2 353.9,661.4 354.7,658.7 355.5,657.4 356.3,658.0 357.1,656.4 357.9,656.0 358.7,656.6 359.5,659.0 360.3,659.2 361.1,659.1 361.9,659.2 362.7,660.9 363.5,659.9 364.3,657.5 365.1,657.5 365.9,655.0 366.7,655.4 367.5,659.7 368.3,662.8 369.1,666.0 369.9,669.9 370.7,672.7 371.5,672.7 372.3,675.6 373.1,675.7 373.9,676.1 374.7,676.1 375.5,676.1" fill="none" stroke="#22914a" stroke-width="1.1" stroke-linejoin="miter" stroke-miterlimit="4" opacity="1.0"/>
<polyline points="244.3,674.7 245.1,674.8 245.9,673.8 246.7,674.4 247.5,673.4 248.3,674.0 249.1,672.8 249.9,672.9 250.7,671.8 251.5,671.9 252.3,672.0 253.1,671.9 253.9,671.2 254.7,671.2 255.5,671.4 256.3,670.2 257.1,671.7 257.9,669.7 258.7,667.7 259.5,668.2 260.3,668.9 261.1,666.4 261.9,666.3 262.7,666.2 263.5,665.4 264.3,664.0 265.1,662.5 265.9,662.4 266.7,659.7 267.5,660.9 268.3,658.4 269.1,659.6 269.9,658.9 270.7,655.8 271.5,654.0 272.3,650.7 273.1,651.5 273.9,648.7 274.7,647.8 275.5,642.9 276.3,638.7 277.1,636.7 277.9,632.0 278.7,629.5 279.5,629.1 280.3,628.7 281.1,627.7 281.9,625.2 282.7,626.4 283.5,621.7 284.3,622.5 285.1,619.4 285.9,620.1 286.7,618.5 287.5,617.0 288.3,613.8 289.1,614.8 289.9,616.6 290.7,615.7 291.5,618.0 292.3,613.6 293.1,615.0 293.9,618.4 294.7,624.7 295.5,624.9 296.3,626.2 297.1,631.8 297.9,635.1 298.7,638.3 299.5,638.7 300.3,641.0 301.1,644.2 301.9,647.8 302.7,650.0 303.5,654.6 304.3,656.9 305.1,660.1 305.9,663.0 306.7,666.0 307.5,665.5 308.3,667.2 309.1,668.2 309.9,669.2 310.7,669.5 311.5,669.9 312.3,671.5 313.1,670.3 313.9,669.8 314.7,669.9 315.5,670.2 316.3,670.0 317.1,671.1 317.9,669.9 318.7,670.3 319.5,670.2 320.3,669.9 321.1,670.4 321.9,671.4 322.7,672.1 323.5,671.3 324.3,671.1 325.1,671.1 325.9,670.8 326.7,671.2 327.5,671.4 328.3,672.7 329.1,671.3 329.9,671.8 330.7,670.9 331.5,671.8 332.3,672.8 333.1,672.6 333.9,672.4 334.7,673.4 335.5,673.9 336.3,672.9 337.1,673.5 337.9,673.4 338.7,673.3 339.5,673.6 340.3,673.1 341.1,673.4 341.9,673.5 342.7,673.3 343.5,673.8 344.3,674.5 345.1,674.0 345.9,674.8 346.7,674.2 347.5,674.9 348.3,674.6 349.1,674.1 349.9,674.4 350.7,675.0 351.5,675.3 352.3,674.8 353.1,674.2 353.9,674.3 354.7,675.1 355.5,674.0 356.3,674.2 357.1,673.9 357.9,673.5 358.7,674.4 359.5,673.6 360.3,673.7 361.1,673.1 361.9,673.6 362.7,674.0 363.5,673.1 364.3,672.5 365.1,673.0 365.9,672.8 366.7,672.4 367.5,672.5 368.3,672.7 369.1,673.0 369.9,672.7 370.7,674.3 371.5,674.7 372.3,674.9 373.1,676.0" fill="none" stroke="#a3307e" stroke-width="1.1" stroke-linejoin="miter" stroke-miterlimit="4" opacity="1.0"/>
<polyline points="244.3,673.0 245.1,673.7 245.9,672.5 246.7,671.6 247.5,671.9 248.3,671.4 249.1,672.1 249.9,671.0 250.7,670.7 251.5,669.5 252.3,669.6 253.1,669.4 253.9,669.5 254.7,669.1 255.5,668.0 256.3,666.5 257.1,668.4 257.9,668.5 258.7,663.7 259.5,663.1 260.3,663.1 261.1,662.4 261.9,662.3 262.7,661.4 263.5,661.3 264.3,658.6 265.1,658.5 265.9,659.4 266.7,656.8 267.5,655.8 268.3,654.7 269.1,650.4 269.9,649.9 270.7,653.7 271.5,647.7 272.3,645.5 273.1,643.6 273.9,642.7 274.7,645.0 275.5,639.5 276.3,639.3 277.1,636.2 277.9,636.7 278.7,638.8 279.5,633.0 280.3,636.8 281.1,632.6 281.9,633.0 282.7,634.0 283.5,636.2 284.3,633.5 285.1,633.1 285.9,631.2 286.7,630.2 287.5,624.8 288.3,624.3 289.1,622.2 289.9,625.7 290.7,624.2 291.5,621.8 292.3,622.0 293.1,623.4 293.9,626.5 294.7,628.7 295.5,625.5 296.3,631.1 297.1,632.4 297.9,631.2 298.7,635.4 299.5,638.4 300.3,638.3 301.1,642.0 301.9,642.3 302.7,646.8 303.5,650.5 304.3,649.3 305.1,653.5 305.9,657.4 306.7,660.4 307.5,664.0 308.3,665.3 309.1,667.3 309.9,666.9 310.7,667.8 311.5,669.9 312.3,670.8 313.1,670.9 313.9,671.7 314.7,671.8 315.5,672.3 316.3,672.7 317.1,673.0 317.9,674.1 318.7,673.5 319.5,675.1 320.3,674.4 321.1,674.7 321.9,674.5 322.7,674.8 323.5,674.7 324.3,675.6 325.1,675.0 325.9,675.2 326.7,674.7 327.5,674.8 328.3,675.1 329.1,675.1 329.9,675.2 330.7,675.0 331.5,674.8 332.3,674.7 333.1,675.0 333.9,675.4 334.7,675.3 335.5,674.7 336.3,675.5 337.1,675.2 337.9,676.0 338.7,674.7 339.5,675.1 340.3,675.4 341.1,675.2 341.9,674.9 342.7,675.2 343.5,675.1 344.3,675.2 345.1,675.6 345.9,675.9 346.7,674.8 347.5,675.4 348.3,674.8 349.1,674.8 349.9,675.4 350.7,675.5 351.5,675.4 352.3,674.6 353.1,675.2 353.9,675.3 354.7,674.8 355.5,675.5 356.3,675.4 357.1,675.4 357.9,675.1 358.7,675.6 359.5,675.3 360.3,675.0 361.1,675.5 361.9,675.5 362.7,674.9 363.5,675.4 364.3,675.1 365.1,674.7 365.9,675.0 366.7,674.4 367.5,675.3 368.3,676.0 369.1,675.5 369.9,675.8 370.7,675.8 371.5,676.1" fill="none" stroke="#3a73b4" stroke-width="1.1" stroke-linejoin="miter" stroke-miterlimit="4" opacity="1.0"/>
<line x1="244.0" y1="528" x2="244.0" y2="676.4" stroke="#4a7f95" stroke-width="1.3"/>
<polyline points="436.0,670.8 436.8,669.6 437.6,668.3 438.4,668.7 439.2,667.2 440.0,667.6 440.8,665.7 441.6,665.6 442.4,663.5 443.2,662.5 444.0,660.5 444.8,660.3 445.6,659.4 446.4,657.8 447.2,656.7 448.0,650.9 448.8,652.1 449.6,646.9 450.4,642.9 451.2,640.4 452.0,638.3 452.8,632.1 453.6,627.1 454.4,623.5 455.2,623.9 456.0,617.4 456.8,611.1 457.6,598.2 458.4,589.0 459.2,580.5 460.0,575.1 460.8,578.2 461.6,572.7 462.4,570.5 463.2,560.8 464.0,560.6 464.8,569.7 465.6,567.7 466.4,561.8 467.2,560.0 468.0,562.9 468.8,565.8 469.6,570.1 470.4,569.3 471.2,572.7 472.0,578.7 472.8,583.0 473.6,585.6 474.4,585.5 475.2,588.9 476.0,595.5 476.8,604.9 477.6,608.5 478.4,613.0 479.2,612.5 480.0,618.0 480.8,624.5 481.6,626.2 482.4,631.6 483.2,637.3 484.0,643.1 484.8,650.3 485.6,655.0 486.4,657.0 487.2,658.9 488.0,664.8 488.8,667.3 489.6,667.8 490.4,670.3 491.2,672.2 492.0,671.4 492.8,671.1 493.6,671.6 494.4,672.3 495.2,673.6 496.0,673.5 496.8,674.3 497.6,674.6 498.4,674.2 499.2,675.0 500.0,674.2 500.8,674.5 501.6,674.5 502.4,674.6 503.2,675.1 504.0,674.0 504.8,674.1 505.6,675.1 506.4,675.1 507.2,675.3 508.0,675.2 508.8,674.9 509.6,674.7 510.4,675.5 511.2,675.6 512.0,675.7 512.8,675.3 513.6,675.5 514.4,675.2 515.2,675.2 516.0,675.8 516.8,675.4 517.6,674.8 518.4,675.2 519.2,675.0 520.0,675.4 520.8,674.0 521.6,674.1 522.4,674.3 523.2,673.7 524.0,673.2 524.8,673.1 525.6,674.0 526.4,673.7 527.2,673.5 528.0,673.1 528.8,674.6 529.6,673.6 530.4,674.5 531.2,673.3 532.0,674.0 532.8,673.7 533.6,674.3 534.4,673.5 535.2,674.0 536.0,674.6 536.8,675.1 537.6,674.2 538.4,674.1 539.2,674.5 540.0,674.5 540.8,674.7 541.6,673.9 542.4,673.8 543.2,674.7 544.0,674.8 544.8,674.1 545.6,675.1 546.4,674.5 547.2,674.3 548.0,674.4 548.8,673.7 549.6,674.8 550.4,674.1 551.2,674.3 552.0,674.4 552.8,674.1 553.6,674.3 554.4,674.3 555.2,674.9 556.0,675.3 556.8,674.6 557.6,675.0 558.4,675.5 559.2,676.0 560.0,675.7 560.8,676.1 561.6,676.1 562.4,676.1 563.2,676.1" fill="none" stroke="#ec5a6e" stroke-width="1.1" stroke-linejoin="miter" stroke-miterlimit="4" opacity="1.0"/>
<polyline points="435.9,675.3 436.7,675.5 437.5,675.6 438.3,675.4 439.1,674.8 439.9,675.7 440.7,673.6 441.5,674.4 442.3,674.0 443.1,674.1 443.9,673.5 444.7,673.9 445.5,673.3 446.3,673.1 447.1,673.0 447.9,673.3 448.7,672.2 449.5,672.5 450.3,672.0 451.1,671.7 451.9,670.8 452.7,672.0 453.5,670.2 454.3,670.4 455.1,671.0 455.9,669.3 456.7,669.3 457.5,669.7 458.3,670.1 459.1,669.5 459.9,669.4 460.7,667.4 461.5,668.8 462.3,667.1 463.1,668.9 463.9,666.5 464.7,665.0 465.5,665.7 466.3,666.5 467.1,664.9 467.9,663.7 468.7,663.8 469.5,663.3 470.3,662.6 471.1,662.2 471.9,662.8 472.7,661.1 473.5,660.2 474.3,659.8 475.1,660.9 475.9,659.3 476.7,656.9 477.5,658.8 478.3,655.9 479.1,656.1 479.9,653.6 480.7,653.5 481.5,651.3 482.3,650.6 483.1,651.5 483.9,650.8 484.7,651.6 485.5,650.3 486.3,651.5 487.1,652.6 487.9,651.6 488.7,648.9 489.5,649.3 490.3,649.3 491.1,649.7 491.9,650.0 492.7,647.1 493.5,646.6 494.3,648.5 495.1,647.3 495.9,647.1 496.7,649.5 497.5,650.5 498.3,650.4 499.1,650.8 499.9,650.8 500.7,652.5 501.5,652.3 502.3,654.5 503.1,655.0 503.9,654.2 504.7,655.0 505.5,656.2 506.3,657.1 507.1,655.4 507.9,657.0 508.7,659.0 509.5,660.2 510.3,657.5 511.1,659.8 511.9,661.9 512.7,661.6 513.5,660.6 514.3,660.5 515.1,660.8 515.9,662.2 516.7,663.5 517.5,663.7 518.3,662.9 519.1,662.2 519.9,663.2 520.7,663.7 521.5,663.7 522.3,662.2 523.1,663.1 523.9,660.8 524.7,662.7 525.5,664.3 526.3,662.9 527.1,663.3 527.9,663.2 528.7,662.8 529.5,665.2 530.3,663.9 531.1,662.4 531.9,662.6 532.7,662.0 533.5,661.1 534.3,660.4 535.1,661.4 535.9,659.9 536.7,660.5 537.5,660.7 538.3,659.5 539.1,660.3 539.9,659.2 540.7,661.9 541.5,659.7 542.3,659.6 543.1,659.6 543.9,659.5 544.7,659.6 545.5,658.8 546.3,658.8 547.1,660.1 547.9,659.4 548.7,661.4 549.5,660.1 550.3,662.1 551.1,661.6 551.9,663.0 552.7,660.8 553.5,665.5 554.3,662.9 555.1,664.4 555.9,664.8 556.7,667.8 557.5,667.9 558.3,669.8 559.1,669.2 559.9,670.1 560.7,670.8 561.5,671.8 562.3,673.0 563.1,673.2 563.9,673.3 564.7,674.6 565.5,675.6 566.3,675.6 567.1,676.1" fill="none" stroke="#3a73b4" stroke-width="1.1" stroke-linejoin="miter" stroke-miterlimit="4" opacity="1.0"/>
<polyline points="440.0,676.1 440.8,676.1 441.6,676.1 442.4,676.1 443.2,676.1 444.0,676.1 444.8,675.9 445.6,675.8 446.4,676.1 447.2,676.1 448.0,676.1 448.8,676.1 449.6,675.5 450.4,675.7 451.2,675.7 452.0,675.4 452.8,675.7 453.6,675.3 454.4,674.9 455.2,674.7 456.0,675.0 456.8,675.1 457.6,674.2 458.4,674.0 459.2,674.5 460.0,673.3 460.8,673.3 461.6,673.2 462.4,673.2 463.2,672.7 464.0,672.1 464.8,672.9 465.6,671.8 466.4,672.3 467.2,672.1 468.0,671.3 468.8,671.9 469.6,671.7 470.4,672.1 471.2,671.7 472.0,671.5 472.8,671.7 473.6,671.7 474.4,670.6 475.2,670.4 476.0,671.5 476.8,671.2 477.6,670.1 478.4,669.7 479.2,670.9 480.0,670.3 480.8,669.1 481.6,668.3 482.4,668.9 483.2,670.3 484.0,668.6 484.8,669.6 485.6,669.9 486.4,669.6 487.2,670.6 488.0,670.5 488.8,672.0 489.6,669.2 490.4,669.7 491.2,669.8 492.0,669.2 492.8,669.0 493.6,669.3 494.4,669.4 495.2,669.2 496.0,670.7 496.8,670.3 497.6,669.5 498.4,668.4 499.2,669.1 500.0,668.9 500.8,669.0 501.6,669.5 502.4,668.9 503.2,668.8 504.0,668.8 504.8,668.1 505.6,667.5 506.4,668.0 507.2,668.2 508.0,667.6 508.8,667.8 509.6,667.7 510.4,667.0 511.2,667.5 512.0,667.4 512.8,667.5 513.6,667.5 514.4,665.8 515.2,665.3 516.0,665.0 516.8,664.5 517.6,665.0 518.4,663.8 519.2,663.6 520.0,663.0 520.8,663.7 521.6,662.2 522.4,662.1 523.2,663.7 524.0,662.7 524.8,662.3 525.6,661.4 526.4,660.2 527.2,662.4 528.0,659.2 528.8,658.9 529.6,659.2 530.4,658.3 531.2,655.9 532.0,655.5 532.8,654.4 533.6,652.9 534.4,648.5 535.2,651.3 536.0,645.0 536.8,647.3 537.6,641.8 538.4,641.7 539.2,638.6 540.0,636.7 540.8,633.1 541.6,627.7 542.4,628.1 543.2,627.7 544.0,623.0 544.8,626.0 545.6,623.1 546.4,622.1 547.2,623.3 548.0,625.3 548.8,624.1 549.6,625.0 550.4,626.9 551.2,628.1 552.0,632.9 552.8,638.8 553.6,642.1 554.4,645.9 555.2,648.8 556.0,651.8 556.8,653.6 557.6,655.9 558.4,659.8 559.2,661.9 560.0,664.9 560.8,665.4 561.6,668.0 562.4,668.7 563.2,668.8 564.0,670.9 564.8,672.3 565.6,672.9 566.4,674.3 567.2,674.7 568.0,675.6 568.8,675.4 569.6,675.9 570.4,676.1" fill="none" stroke="#a3307e" stroke-width="1.1" stroke-linejoin="miter" stroke-miterlimit="4" opacity="1.0"/>
<polyline points="489.0,676.1 489.8,676.1 490.6,675.9 491.4,676.1 492.2,676.1 493.0,675.8 493.8,675.3 494.6,675.6 495.4,676.0 496.2,675.8 497.0,675.5 497.8,675.1 498.6,675.3 499.4,675.3 500.2,675.2 501.0,674.9 501.8,675.2 502.6,674.8 503.4,674.5 504.2,673.8 505.0,674.3 505.8,673.7 506.6,674.4 507.4,673.4 508.2,673.5 509.0,673.6 509.8,673.2 510.6,672.4 511.4,672.8 512.2,671.8 513.0,671.2 513.8,670.8 514.6,670.5 515.4,671.8 516.2,670.5 517.0,670.7 517.8,669.2 518.6,669.3 519.4,668.8 520.2,668.1 521.0,668.4 521.8,667.5 522.6,667.6 523.4,664.9 524.2,666.3 525.0,665.3 525.8,666.2 526.6,665.3 527.4,664.1 528.2,661.9 529.0,660.9 529.8,660.0 530.6,659.3 531.4,655.0 532.2,656.0 533.0,653.8 533.8,649.8 534.6,648.8 535.4,644.0 536.2,639.4 537.0,637.1 537.8,632.7 538.6,629.5 539.4,626.6 540.2,626.4 541.0,618.9 541.8,612.1 542.6,609.1 543.4,600.3 544.2,594.6 545.0,590.0 545.8,593.3 546.6,589.8 547.4,586.4 548.2,583.3 549.0,584.9 549.8,579.1 550.6,592.8 551.4,597.4 552.2,599.6 553.0,597.7 553.8,600.3 554.6,615.1 555.4,622.6 556.2,627.3 557.0,630.6 557.8,637.2 558.6,638.2 559.4,647.5 560.2,652.5 561.0,651.4 561.8,655.4 562.6,660.6 563.4,662.7 564.2,666.5 565.0,668.2 565.8,669.2 566.6,670.9 567.4,672.9 568.2,673.3 569.0,674.8 569.8,676.0" fill="none" stroke="#22914a" stroke-width="1.1" stroke-linejoin="miter" stroke-miterlimit="4" opacity="1.0"/>
<line x1="435.4" y1="525.2" x2="435.4" y2="626" stroke="#4a3060" stroke-width="1.2"/>
<line x1="435.4" y1="626" x2="435.4" y2="676.4" stroke="#2a8a4a" stroke-width="1.2"/>
<line x1="104.5" y1="257.0" x2="104.5" y2="427.6" stroke="#000" stroke-width="2"/>
<line x1="103.5" y1="421.1" x2="349.8" y2="421.1" stroke="#000" stroke-width="2"/>
<line x1="97.3" y1="421.1" x2="104.5" y2="421.1" stroke="#000" stroke-width="2"/>
<text x="95.5" y="425.5" text-anchor="end" font-size="12.5" font-weight="bold" fill="#111">10<tspan font-size="8.2" dx="1.2" dy="-3.9">3</tspan></text>
<line x1="97.3" y1="393.9" x2="104.5" y2="393.9" stroke="#000" stroke-width="2"/>
<text x="95.5" y="398.3" text-anchor="end" font-size="12.5" font-weight="bold" fill="#111">10<tspan font-size="8.2" dx="1.2" dy="-3.9">4</tspan></text>
<line x1="97.3" y1="366.7" x2="104.5" y2="366.7" stroke="#000" stroke-width="2"/>
<text x="95.5" y="371.1" text-anchor="end" font-size="12.5" font-weight="bold" fill="#111">10<tspan font-size="8.2" dx="1.2" dy="-3.9">5</tspan></text>
<line x1="97.3" y1="339.5" x2="104.5" y2="339.5" stroke="#000" stroke-width="2"/>
<text x="95.5" y="343.9" text-anchor="end" font-size="12.5" font-weight="bold" fill="#111">10<tspan font-size="8.2" dx="1.2" dy="-3.9">6</tspan></text>
<line x1="97.3" y1="312.3" x2="104.5" y2="312.3" stroke="#000" stroke-width="2"/>
<text x="95.5" y="316.7" text-anchor="end" font-size="12.5" font-weight="bold" fill="#111">10<tspan font-size="8.2" dx="1.2" dy="-3.9">7</tspan></text>
<line x1="97.3" y1="285.1" x2="104.5" y2="285.1" stroke="#000" stroke-width="2"/>
<text x="95.5" y="289.5" text-anchor="end" font-size="12.5" font-weight="bold" fill="#111">10<tspan font-size="8.2" dx="1.2" dy="-3.9">8</tspan></text>
<line x1="97.3" y1="257.9" x2="104.5" y2="257.9" stroke="#000" stroke-width="2"/>
<text x="95.5" y="262.3" text-anchor="end" font-size="12.5" font-weight="bold" fill="#111">10<tspan font-size="8.2" dx="1.2" dy="-3.9">9</tspan></text>
<line x1="185.9" y1="421.1" x2="185.9" y2="427.6" stroke="#000" stroke-width="2"/>
<line x1="267.3" y1="421.1" x2="267.3" y2="427.6" stroke="#000" stroke-width="2"/>
<line x1="348.7" y1="421.1" x2="348.7" y2="427.6" stroke="#000" stroke-width="2"/>
<text x="104.5" y="441.6" text-anchor="middle" font-size="12.3" font-weight="bold" fill="#111">0:00:00</text>
<text x="185.9" y="441.6" text-anchor="middle" font-size="12.3" font-weight="bold" fill="#111">2:00:00</text>
<text x="267.3" y="441.6" text-anchor="middle" font-size="12.3" font-weight="bold" fill="#111">4:00:00</text>
<text x="348.7" y="441.6" text-anchor="middle" font-size="12.3" font-weight="bold" fill="#111">6:00:00</text>
<text x="58.9" y="424.6" font-size="13.4" font-weight="bold" fill="#111" text-anchor="middle">LOD</text>
<text x="226.7" y="461.6" text-anchor="middle" font-size="13.9" font-weight="bold" fill="#111">Time (h)</text>
<text x="226.4" y="236.7" text-anchor="middle" font-size="16.1" font-weight="bold" fill="#111">CFU/ml</text>
<text transform="translate(70.5,340.9) rotate(-90)" text-anchor="middle" font-size="16.1" font-weight="bold" fill="#111">CFU/ml</text>
<polyline points="104.5,281.0 111.3,286.0 124.8,300.2 145.2,330.4 185.9,377.4 226.6,407.8 267.3,420.7" fill="none" stroke="#d2be4e" stroke-width="1.3"/>
<polyline points="104.5,277.5 111.3,280.8 124.8,282.3 145.2,291.4 185.9,314.4 226.6,334.9 267.3,372.9 348.7,421.0" fill="none" stroke="#2a9448" stroke-width="1.3"/>
<polyline points="104.5,282.0 111.3,279.5 124.8,279.4 145.2,279.8 185.9,274.4 226.6,272.7 267.3,278.3 348.7,279.4" fill="none" stroke="#a8378a" stroke-width="1.3"/>
<polyline points="104.5,283.2 111.3,280.0 124.8,278.5 145.2,275.2 185.9,266.3 226.6,266.1 267.3,265.0 348.7,266.6" fill="none" stroke="#4678bb" stroke-width="1.3"/>
<polyline points="104.5,280.4 111.3,278.1 124.8,275.6 145.2,273.7 185.9,262.6 226.6,260.3 267.3,259.4 348.7,263.3" fill="none" stroke="#ee6477" stroke-width="1.3"/>
<polygon points="104.5,278.4 107.1,281.0 104.5,283.6 101.9,281.0" fill="#d2be4e"/>
<line x1="111.3" y1="286.0" x2="111.3" y2="292.7" stroke="#d2be4e" stroke-width="1.2"/>
<line x1="108.7" y1="292.7" x2="113.9" y2="292.7" stroke="#d2be4e" stroke-width="1.2"/>
<polygon points="111.3,283.4 113.9,286.0 111.3,288.6 108.7,286.0" fill="#d2be4e"/>
<line x1="124.8" y1="294.2" x2="124.8" y2="316.2" stroke="#d2be4e" stroke-width="1.2"/>
<line x1="122.2" y1="294.2" x2="127.4" y2="294.2" stroke="#d2be4e" stroke-width="1.2"/>
<line x1="122.2" y1="316.2" x2="127.4" y2="316.2" stroke="#d2be4e" stroke-width="1.2"/>
<polygon points="124.8,297.6 127.4,300.2 124.8,302.8 122.2,300.2" fill="#d2be4e"/>
<line x1="145.2" y1="323.9" x2="145.2" y2="346.4" stroke="#d2be4e" stroke-width="1.2"/>
<line x1="142.6" y1="323.9" x2="147.8" y2="323.9" stroke="#d2be4e" stroke-width="1.2"/>
<line x1="142.6" y1="346.4" x2="147.8" y2="346.4" stroke="#d2be4e" stroke-width="1.2"/>
<polygon points="145.2,327.8 147.8,330.4 145.2,333.0 142.6,330.4" fill="#d2be4e"/>
<line x1="185.9" y1="373.2" x2="185.9" y2="383.4" stroke="#d2be4e" stroke-width="1.2"/>
<line x1="183.3" y1="373.2" x2="188.5" y2="373.2" stroke="#d2be4e" stroke-width="1.2"/>
<line x1="183.3" y1="383.4" x2="188.5" y2="383.4" stroke="#d2be4e" stroke-width="1.2"/>
<polygon points="185.9,374.8 188.5,377.4 185.9,380.0 183.3,377.4" fill="#d2be4e"/>
<line x1="226.6" y1="403.2" x2="226.6" y2="415.0" stroke="#d2be4e" stroke-width="1.2"/>
<line x1="224.0" y1="403.2" x2="229.2" y2="403.2" stroke="#d2be4e" stroke-width="1.2"/>
<line x1="224.0" y1="415.0" x2="229.2" y2="415.0" stroke="#d2be4e" stroke-width="1.2"/>
<polygon points="226.6,405.2 229.2,407.8 226.6,410.4 224.0,407.8" fill="#d2be4e"/>
<polygon points="267.3,418.1 269.9,420.7 267.3,423.3 264.7,420.7" fill="#d2be4e"/>
<line x1="104.5" y1="275.5" x2="104.5" y2="279.5" stroke="#2a9448" stroke-width="1.2"/>
<line x1="101.9" y1="275.5" x2="107.1" y2="275.5" stroke="#2a9448" stroke-width="1.2"/>
<line x1="101.9" y1="279.5" x2="107.1" y2="279.5" stroke="#2a9448" stroke-width="1.2"/>
<polygon points="104.5,280.3 107.2,275.5 101.8,275.5" fill="#2a9448"/>
<line x1="111.3" y1="278.8" x2="111.3" y2="286.3" stroke="#2a9448" stroke-width="1.2"/>
<line x1="108.7" y1="278.8" x2="113.9" y2="278.8" stroke="#2a9448" stroke-width="1.2"/>
<line x1="108.7" y1="286.3" x2="113.9" y2="286.3" stroke="#2a9448" stroke-width="1.2"/>
<polygon points="111.3,283.6 114.0,278.8 108.6,278.8" fill="#2a9448"/>
<line x1="124.8" y1="280.3" x2="124.8" y2="284.3" stroke="#2a9448" stroke-width="1.2"/>
<line x1="122.2" y1="280.3" x2="127.4" y2="280.3" stroke="#2a9448" stroke-width="1.2"/>
<line x1="122.2" y1="284.3" x2="127.4" y2="284.3" stroke="#2a9448" stroke-width="1.2"/>
<polygon points="124.8,285.1 127.5,280.3 122.1,280.3" fill="#2a9448"/>
<line x1="145.2" y1="288.0" x2="145.2" y2="299.7" stroke="#2a9448" stroke-width="1.2"/>
<line x1="142.6" y1="288.0" x2="147.8" y2="288.0" stroke="#2a9448" stroke-width="1.2"/>
<line x1="142.6" y1="299.7" x2="147.8" y2="299.7" stroke="#2a9448" stroke-width="1.2"/>
<polygon points="145.2,294.2 147.9,289.4 142.5,289.4" fill="#2a9448"/>
<line x1="185.9" y1="307.0" x2="185.9" y2="344.4" stroke="#2a9448" stroke-width="1.2"/>
<line x1="183.3" y1="307.0" x2="188.5" y2="307.0" stroke="#2a9448" stroke-width="1.2"/>
<line x1="183.3" y1="344.4" x2="188.5" y2="344.4" stroke="#2a9448" stroke-width="1.2"/>
<polygon points="185.9,317.2 188.6,312.4 183.2,312.4" fill="#2a9448"/>
<line x1="226.6" y1="326.6" x2="226.6" y2="337.9" stroke="#2a9448" stroke-width="1.2"/>
<line x1="224.0" y1="326.6" x2="229.2" y2="326.6" stroke="#2a9448" stroke-width="1.2"/>
<line x1="224.0" y1="337.9" x2="229.2" y2="337.9" stroke="#2a9448" stroke-width="1.2"/>
<polygon points="226.6,337.7 229.3,332.9 223.9,332.9" fill="#2a9448"/>
<polygon points="267.3,375.7 270.0,370.9 264.6,370.9" fill="#2a9448"/>
<polygon points="348.7,423.8 351.4,419.0 346.0,419.0" fill="#2a9448"/>
<line x1="104.5" y1="280.0" x2="104.5" y2="284.0" stroke="#a8378a" stroke-width="1.2"/>
<line x1="101.9" y1="280.0" x2="107.1" y2="280.0" stroke="#a8378a" stroke-width="1.2"/>
<line x1="101.9" y1="284.0" x2="107.1" y2="284.0" stroke="#a8378a" stroke-width="1.2"/>
<polygon points="104.5,279.2 107.2,284.0 101.8,284.0" fill="#a8378a"/>
<line x1="111.3" y1="277.5" x2="111.3" y2="286.0" stroke="#a8378a" stroke-width="1.2"/>
<line x1="108.7" y1="277.5" x2="113.9" y2="277.5" stroke="#a8378a" stroke-width="1.2"/>
<line x1="108.7" y1="286.0" x2="113.9" y2="286.0" stroke="#a8378a" stroke-width="1.2"/>
<polygon points="111.3,276.7 114.0,281.5 108.6,281.5" fill="#a8378a"/>
<line x1="124.8" y1="277.4" x2="124.8" y2="281.4" stroke="#a8378a" stroke-width="1.2"/>
<line x1="122.2" y1="277.4" x2="127.4" y2="277.4" stroke="#a8378a" stroke-width="1.2"/>
<line x1="122.2" y1="281.4" x2="127.4" y2="281.4" stroke="#a8378a" stroke-width="1.2"/>
<polygon points="124.8,276.6 127.5,281.4 122.1,281.4" fill="#a8378a"/>
<line x1="145.2" y1="277.8" x2="145.2" y2="288.8" stroke="#a8378a" stroke-width="1.2"/>
<line x1="142.6" y1="277.8" x2="147.8" y2="277.8" stroke="#a8378a" stroke-width="1.2"/>
<line x1="142.6" y1="288.8" x2="147.8" y2="288.8" stroke="#a8378a" stroke-width="1.2"/>
<polygon points="145.2,277.0 147.9,281.8 142.5,281.8" fill="#a8378a"/>
<line x1="185.9" y1="262.4" x2="185.9" y2="288.8" stroke="#a8378a" stroke-width="1.2"/>
<line x1="183.3" y1="262.4" x2="188.5" y2="262.4" stroke="#a8378a" stroke-width="1.2"/>
<line x1="183.3" y1="288.8" x2="188.5" y2="288.8" stroke="#a8378a" stroke-width="1.2"/>
<polygon points="185.9,271.6 188.6,276.4 183.2,276.4" fill="#a8378a"/>
<line x1="226.6" y1="269.4" x2="226.6" y2="277.7" stroke="#a8378a" stroke-width="1.2"/>
<line x1="224.0" y1="269.4" x2="229.2" y2="269.4" stroke="#a8378a" stroke-width="1.2"/>
<line x1="224.0" y1="277.7" x2="229.2" y2="277.7" stroke="#a8378a" stroke-width="1.2"/>
<polygon points="226.6,269.9 229.3,274.7 223.9,274.7" fill="#a8378a"/>
<line x1="267.3" y1="274.4" x2="267.3" y2="282.2" stroke="#a8378a" stroke-width="1.2"/>
<line x1="264.7" y1="274.4" x2="269.9" y2="274.4" stroke="#a8378a" stroke-width="1.2"/>
<line x1="264.7" y1="282.2" x2="269.9" y2="282.2" stroke="#a8378a" stroke-width="1.2"/>
<polygon points="267.3,275.5 270.0,280.3 264.6,280.3" fill="#a8378a"/>
<line x1="348.7" y1="275.2" x2="348.7" y2="285.2" stroke="#a8378a" stroke-width="1.2"/>
<line x1="346.1" y1="275.2" x2="351.3" y2="275.2" stroke="#a8378a" stroke-width="1.2"/>
<line x1="346.1" y1="285.2" x2="351.3" y2="285.2" stroke="#a8378a" stroke-width="1.2"/>
<polygon points="348.7,276.6 351.4,281.4 346.0,281.4" fill="#a8378a"/>
<line x1="104.5" y1="281.2" x2="104.5" y2="287.7" stroke="#4678bb" stroke-width="1.2"/>
<line x1="101.9" y1="281.2" x2="107.1" y2="281.2" stroke="#4678bb" stroke-width="1.2"/>
<line x1="101.9" y1="287.7" x2="107.1" y2="287.7" stroke="#4678bb" stroke-width="1.2"/>
<rect x="102.2" y="280.9" width="4.6" height="4.6" fill="#4678bb"/>
<line x1="111.3" y1="278.0" x2="111.3" y2="283.0" stroke="#4678bb" stroke-width="1.2"/>
<line x1="108.7" y1="278.0" x2="113.9" y2="278.0" stroke="#4678bb" stroke-width="1.2"/>
<line x1="108.7" y1="283.0" x2="113.9" y2="283.0" stroke="#4678bb" stroke-width="1.2"/>
<rect x="109.0" y="277.7" width="4.6" height="4.6" fill="#4678bb"/>
<line x1="124.8" y1="276.5" x2="124.8" y2="285.7" stroke="#4678bb" stroke-width="1.2"/>
<line x1="122.2" y1="276.5" x2="127.4" y2="276.5" stroke="#4678bb" stroke-width="1.2"/>
<line x1="122.2" y1="285.7" x2="127.4" y2="285.7" stroke="#4678bb" stroke-width="1.2"/>
<rect x="122.5" y="276.2" width="4.6" height="4.6" fill="#4678bb"/>
<line x1="145.2" y1="273.2" x2="145.2" y2="279.2" stroke="#4678bb" stroke-width="1.2"/>
<line x1="142.6" y1="273.2" x2="147.8" y2="273.2" stroke="#4678bb" stroke-width="1.2"/>
<line x1="142.6" y1="279.2" x2="147.8" y2="279.2" stroke="#4678bb" stroke-width="1.2"/>
<rect x="142.9" y="272.9" width="4.6" height="4.6" fill="#4678bb"/>
<line x1="185.9" y1="264.3" x2="185.9" y2="268.3" stroke="#4678bb" stroke-width="1.2"/>
<line x1="183.3" y1="264.3" x2="188.5" y2="264.3" stroke="#4678bb" stroke-width="1.2"/>
<line x1="183.3" y1="268.3" x2="188.5" y2="268.3" stroke="#4678bb" stroke-width="1.2"/>
<rect x="183.6" y="264.0" width="4.6" height="4.6" fill="#4678bb"/>
<line x1="226.6" y1="264.1" x2="226.6" y2="268.1" stroke="#4678bb" stroke-width="1.2"/>
<line x1="224.0" y1="264.1" x2="229.2" y2="264.1" stroke="#4678bb" stroke-width="1.2"/>
<line x1="224.0" y1="268.1" x2="229.2" y2="268.1" stroke="#4678bb" stroke-width="1.2"/>
<rect x="224.3" y="263.8" width="4.6" height="4.6" fill="#4678bb"/>
<line x1="267.3" y1="263.0" x2="267.3" y2="267.0" stroke="#4678bb" stroke-width="1.2"/>
<line x1="264.7" y1="263.0" x2="269.9" y2="263.0" stroke="#4678bb" stroke-width="1.2"/>
<line x1="264.7" y1="267.0" x2="269.9" y2="267.0" stroke="#4678bb" stroke-width="1.2"/>
<rect x="265.0" y="262.7" width="4.6" height="4.6" fill="#4678bb"/>
<line x1="348.7" y1="264.6" x2="348.7" y2="268.6" stroke="#4678bb" stroke-width="1.2"/>
<line x1="346.1" y1="264.6" x2="351.3" y2="264.6" stroke="#4678bb" stroke-width="1.2"/>
<line x1="346.1" y1="268.6" x2="351.3" y2="268.6" stroke="#4678bb" stroke-width="1.2"/>
<rect x="346.4" y="264.3" width="4.6" height="4.6" fill="#4678bb"/>
<line x1="104.5" y1="277.4" x2="104.5" y2="283.4" stroke="#ee6477" stroke-width="1.2"/>
<line x1="101.9" y1="277.4" x2="107.1" y2="277.4" stroke="#ee6477" stroke-width="1.2"/>
<line x1="101.9" y1="283.4" x2="107.1" y2="283.4" stroke="#ee6477" stroke-width="1.2"/>
<circle cx="104.5" cy="280.4" r="2.7" fill="#ee6477"/>
<line x1="111.3" y1="275.1" x2="111.3" y2="281.1" stroke="#ee6477" stroke-width="1.2"/>
<line x1="108.7" y1="275.1" x2="113.9" y2="275.1" stroke="#ee6477" stroke-width="1.2"/>
<line x1="108.7" y1="281.1" x2="113.9" y2="281.1" stroke="#ee6477" stroke-width="1.2"/>
<circle cx="111.3" cy="278.1" r="2.7" fill="#ee6477"/>
<line x1="124.8" y1="271.3" x2="124.8" y2="278.6" stroke="#ee6477" stroke-width="1.2"/>
<line x1="122.2" y1="271.3" x2="127.4" y2="271.3" stroke="#ee6477" stroke-width="1.2"/>
<line x1="122.2" y1="278.6" x2="127.4" y2="278.6" stroke="#ee6477" stroke-width="1.2"/>
<circle cx="124.8" cy="275.6" r="2.7" fill="#ee6477"/>
<line x1="145.2" y1="269.0" x2="145.2" y2="276.7" stroke="#ee6477" stroke-width="1.2"/>
<line x1="142.6" y1="269.0" x2="147.8" y2="269.0" stroke="#ee6477" stroke-width="1.2"/>
<line x1="142.6" y1="276.7" x2="147.8" y2="276.7" stroke="#ee6477" stroke-width="1.2"/>
<circle cx="145.2" cy="273.7" r="2.7" fill="#ee6477"/>
<line x1="185.9" y1="258.9" x2="185.9" y2="265.6" stroke="#ee6477" stroke-width="1.2"/>
<line x1="183.3" y1="258.9" x2="188.5" y2="258.9" stroke="#ee6477" stroke-width="1.2"/>
<line x1="183.3" y1="265.6" x2="188.5" y2="265.6" stroke="#ee6477" stroke-width="1.2"/>
<circle cx="185.9" cy="262.6" r="2.7" fill="#ee6477"/>
<line x1="226.6" y1="258.3" x2="226.6" y2="262.3" stroke="#ee6477" stroke-width="1.2"/>
<line x1="224.0" y1="258.3" x2="229.2" y2="258.3" stroke="#ee6477" stroke-width="1.2"/>
<line x1="224.0" y1="262.3" x2="229.2" y2="262.3" stroke="#ee6477" stroke-width="1.2"/>
<circle cx="226.6" cy="260.3" r="2.7" fill="#ee6477"/>
<line x1="267.3" y1="257.4" x2="267.3" y2="280.4" stroke="#ee6477" stroke-width="1.2"/>
<line x1="264.7" y1="257.4" x2="269.9" y2="257.4" stroke="#ee6477" stroke-width="1.2"/>
<line x1="264.7" y1="280.4" x2="269.9" y2="280.4" stroke="#ee6477" stroke-width="1.2"/>
<circle cx="267.3" cy="259.4" r="2.7" fill="#ee6477"/>
<line x1="348.7" y1="261.0" x2="348.7" y2="265.3" stroke="#ee6477" stroke-width="1.2"/>
<line x1="346.1" y1="261.0" x2="351.3" y2="261.0" stroke="#ee6477" stroke-width="1.2"/>
<line x1="346.1" y1="265.3" x2="351.3" y2="265.3" stroke="#ee6477" stroke-width="1.2"/>
<circle cx="348.7" cy="263.3" r="2.7" fill="#ee6477"/>
<line x1="370.3" y1="269.2" x2="388.2" y2="269.2" stroke="#ee6477" stroke-width="1.3"/>
<circle cx="379.3" cy="269.2" r="2.5" fill="#ee6477"/>
<text x="397.9" y="273.9" font-size="13.7" fill="#111">Control</text>
<line x1="370.3" y1="290.9" x2="388.2" y2="290.9" stroke="#d2be4e" stroke-width="1.3"/>
<polygon points="379.3,288.6 381.7,290.9 379.3,293.3 376.9,290.9" fill="#d2be4e"/>
<text x="397.9" y="295.6" font-size="13.7" fill="#111">4xMIC (4 µg/ml)</text>
<line x1="370.3" y1="312.7" x2="388.2" y2="312.7" stroke="#2a9448" stroke-width="1.3"/>
<polygon points="379.3,315.3 381.8,310.8 376.8,310.8" fill="#2a9448"/>
<text x="397.9" y="317.4" font-size="13.7" fill="#111">2xMIC (2 µg/ml)</text>
<line x1="370.3" y1="334.4" x2="388.2" y2="334.4" stroke="#a8378a" stroke-width="1.3"/>
<polygon points="379.3,331.8 381.8,336.3 376.8,336.3" fill="#a8378a"/>
<text x="397.9" y="339.1" font-size="13.7" fill="#111">1xMIC (1 µg/ml)</text>
<line x1="370.3" y1="356.2" x2="388.2" y2="356.2" stroke="#4678bb" stroke-width="1.3"/>
<rect x="377.1" y="354.0" width="4.4" height="4.4" fill="#4678bb"/>
<text x="397.9" y="360.9" font-size="13.7" fill="#111">0.5xMIC (0.5 µg/ml)</text>
</svg></body></html>
